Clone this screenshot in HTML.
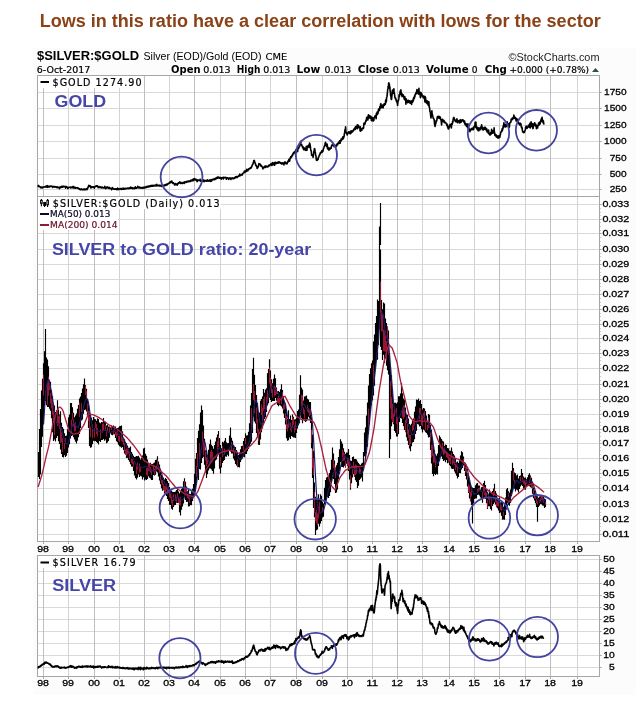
<!DOCTYPE html>
<html><head><meta charset="utf-8"><title>$SILVER:$GOLD chart</title>
<style>
html,body{margin:0;padding:0;background:#fff;}
body{width:636px;height:702px;position:relative;overflow:hidden;}
svg{position:absolute;left:0;top:0;}
</style></head>
<body>
<svg width="636" height="702" viewBox="0 0 636 702">
<rect x="33" y="48" width="603" height="647" fill="#fcfcfc"/>
<rect x="37" y="75" width="562" height="121" fill="#fff"/>
<rect x="37" y="196" width="562" height="345" fill="#fff"/>
<rect x="37" y="555" width="562" height="121" fill="#fff"/>
<path d="M37 92.5H599M37 108.5H599M37 125.5H599M37 141.5H599M37 158.5H599M37 174.5H599M37 189.5H599M37 204.5H599M37 219.5H599M37 233.5H599M37 249.5H599M37 264.5H599M37 279.5H599M37 294.5H599M37 309.5H599M37 324.5H599M37 338.5H599M37 353.5H599M37 368.5H599M37 384.5H599M37 399.5H599M37 414.5H599M37 429.5H599M37 443.5H599M37 458.5H599M37 473.5H599M37 488.5H599M37 504.5H599M37 519.5H599M37 534.5H599M37 559.5H599M37 571.5H599M37 583.5H599M37 595.5H599M37 607.5H599M37 619.5H599M37 631.5H599M37 643.5H599M37 655.5H599M37 667.5H599" stroke="#d9d9d9" stroke-width="1" fill="none"/>
<path d="M43.5 75V196M94.5 75V196M144.5 75V196M194.5 75V196M245.5 75V196M296.5 75V196M347.5 75V196M397.5 75V196M449.5 75V196M499.5 75V196M550.5 75V196M43.5 196V541M94.5 196V541M144.5 196V541M194.5 196V541M245.5 196V541M296.5 196V541M347.5 196V541M397.5 196V541M449.5 196V541M499.5 196V541M550.5 196V541M43.5 555V676M94.5 555V676M144.5 555V676M194.5 555V676M245.5 555V676M296.5 555V676M347.5 555V676M397.5 555V676M449.5 555V676M499.5 555V676M550.5 555V676" stroke="#bfbfbf" stroke-width="1" fill="none"/>
<path d="M68.5 75V196M119.5 75V196M169.5 75V196M220.5 75V196M270.5 75V196M322.5 75V196M372.5 75V196M422.5 75V196M474.5 75V196M525.5 75V196M577.5 75V196M68.5 196V541M119.5 196V541M169.5 196V541M220.5 196V541M270.5 196V541M322.5 196V541M372.5 196V541M422.5 196V541M474.5 196V541M525.5 196V541M577.5 196V541M68.5 555V676M119.5 555V676M169.5 555V676M220.5 555V676M270.5 555V676M322.5 555V676M372.5 555V676M422.5 555V676M474.5 555V676M525.5 555V676M577.5 555V676" stroke="#d3d3d3" stroke-width="1" fill="none"/>
<path d="M599 92.5H601.6M599 108.5H601.6M599 125.5H601.6M599 141.5H601.6M599 158.5H601.6M599 174.5H601.6M599 189.5H601.6M599 204.5H601.6M599 219.5H601.6M599 233.5H601.6M599 249.5H601.6M599 264.5H601.6M599 279.5H601.6M599 294.5H601.6M599 309.5H601.6M599 324.5H601.6M599 338.5H601.6M599 353.5H601.6M599 368.5H601.6M599 384.5H601.6M599 399.5H601.6M599 414.5H601.6M599 429.5H601.6M599 443.5H601.6M599 458.5H601.6M599 473.5H601.6M599 488.5H601.6M599 504.5H601.6M599 519.5H601.6M599 534.5H601.6M599 559.5H601.6M599 571.5H601.6M599 583.5H601.6M599 595.5H601.6M599 607.5H601.6M599 619.5H601.6M599 631.5H601.6M599 643.5H601.6M599 655.5H601.6M599 667.5H601.6M43.5 541V544M68.5 541V544M94.5 541V544M119.5 541V544M144.5 541V544M169.5 541V544M194.5 541V544M220.5 541V544M245.5 541V544M270.5 541V544M296.5 541V544M322.5 541V544M347.5 541V544M372.5 541V544M397.5 541V544M422.5 541V544M449.5 541V544M474.5 541V544M499.5 541V544M525.5 541V544M550.5 541V544M577.5 541V544M43.5 676V679M68.5 676V679M94.5 676V679M119.5 676V679M144.5 676V679M169.5 676V679M194.5 676V679M220.5 676V679M245.5 676V679M270.5 676V679M296.5 676V679M322.5 676V679M347.5 676V679M372.5 676V679M397.5 676V679M422.5 676V679M449.5 676V679M474.5 676V679M499.5 676V679M525.5 676V679M550.5 676V679M577.5 676V679M599 208.5H600.6M599 212.5H600.6M599 215.5H600.6M599 222.5H600.6M599 226.5H600.6M599 230.5H600.6M599 237.5H600.6M599 241.5H600.6M599 245.5H600.6M599 253.5H600.6M599 256.5H600.6M599 260.5H600.6M599 268.5H600.6M599 272.5H600.6M599 275.5H600.6M599 283.5H600.6M599 286.5H600.6M599 290.5H600.6M599 298.5H600.6M599 302.5H600.6M599 305.5H600.6M599 313.5H600.6M599 316.5H600.6M599 320.5H600.6M599 328.5H600.6M599 331.5H600.6M599 334.5H600.6M599 342.5H600.6M599 346.5H600.6M599 349.5H600.6M599 357.5H600.6M599 360.5H600.6M599 364.5H600.6M599 372.5H600.6M599 376.5H600.6M599 380.5H600.6M599 388.5H600.6M599 392.5H600.6M599 395.5H600.6M599 403.5H600.6M599 406.5H600.6M599 410.5H600.6M599 418.5H600.6M599 422.5H600.6M599 425.5H600.6M599 432.5H600.6M599 436.5H600.6M599 440.5H600.6M599 447.5H600.6M599 450.5H600.6M599 454.5H600.6M599 462.5H600.6M599 466.5H600.6M599 469.5H600.6M599 477.5H600.6M599 480.5H600.6M599 484.5H600.6M599 492.5H600.6M599 496.5H600.6M599 500.5H600.6M599 508.5H600.6M599 512.5H600.6M599 515.5H600.6M599 523.5H600.6M599 526.5H600.6M599 530.5H600.6" stroke="#a6a6a6" stroke-width="1" fill="none"/>
<rect x="37.5" y="75.5" width="562" height="121" fill="none" stroke="#a6a6a6" stroke-width="1"/>
<rect x="37.5" y="196.5" width="562" height="345" fill="none" stroke="#a6a6a6" stroke-width="1"/>
<rect x="37.5" y="555.5" width="562" height="121" fill="none" stroke="#a6a6a6" stroke-width="1"/>
<rect x="38" y="76" width="104" height="12" fill="#fff"/>
<rect x="38" y="197" width="183" height="12" fill="#fff"/>
<rect x="38" y="209" width="80" height="21" fill="#fff"/>
<rect x="38" y="556" width="99" height="12" fill="#fff"/>
<path d="M38.5 451.9V477M39.5 429V479M40.5 408.9V474.5M41.5 390.4V447.1M42.5 378.7V436.8M43.5 363.3V424.6M44.5 351.2V406.1M45.5 335.9V401M46.5 357.5V405.2M47.5 359.5V407M48.5 366.2V406.9M49.5 379.7V408.8M50.5 381.8V410.8M51.5 390.2V418.3M52.5 396V432.3M53.5 403.5V441.1M54.5 405.5V439.5M55.5 411.9V441.4M56.5 410.2V437.9M57.5 400.3V436M58.5 409.6V441.3M59.5 414.6V444.1M60.5 411.2V449.6M61.5 422.7V454M62.5 426.9V457M63.5 428.8V457.6M64.5 433.2V455.2M65.5 436V456.9M66.5 435.4V455.7M67.5 429.3V453M68.5 417.2V447.4M69.5 414.6V444.2M70.5 403V438.5M71.5 402.9V436.1M72.5 407.2V435.3M73.5 412.7V437.3M74.5 417.2V439.4M75.5 415.6V441.7M76.5 413.4V443.6M77.5 408.7V440.7M78.5 405V437.2M79.5 398.6V434.1M80.5 396.4V428.1M81.5 393V420.5M82.5 388.5V419.4M83.5 384.3V413.7M84.5 378.5V410.1M85.5 384.9V409.5M86.5 388.8V411.4M87.5 399V415.9M88.5 404.9V427.9M89.5 412.5V446.1M90.5 414.2V447.8M91.5 417.4V447.3M92.5 420.3V444.3M93.5 417V440.7M94.5 418.8V441.3M95.5 419.2V441.1M96.5 420.7V441.9M97.5 418.3V443M98.5 419V444.4M99.5 422.5V440.9M100.5 423.2V441.9M101.5 421.9V439.9M102.5 422.3V439.9M103.5 418.1V439.1M104.5 421.4V440.7M105.5 421.8V439.5M106.5 425.4V443.3M107.5 424.7V442.4M108.5 426.6V440.9M109.5 426.5V437.8M110.5 427.6V433M111.5 425.6V434.7M112.5 426V435.2M113.5 425.6V434.3M114.5 426.6V434.2M115.5 426.4V438M116.5 428.8V441.2M117.5 428.1V442.3M118.5 427.6V444.7M119.5 426.2V446.3M120.5 426V446.8M121.5 425.6V447.7M122.5 431.3V447.1M123.5 437.8V450.1M124.5 439.3V453.5M125.5 441.9V454.6M126.5 443.2V458.1M127.5 445.4V457.7M128.5 447.8V459.9M129.5 447.7V461.7M130.5 446.6V464.2M131.5 452.1V466.6M132.5 453.7V466.7M133.5 455.7V471.1M134.5 457.1V475.6M135.5 456.7V478M136.5 455.9V479.4M137.5 456.3V477.7M138.5 455.7V474.4M139.5 457.5V477M140.5 459.6V475.7M141.5 457.9V476.5M142.5 455.6V479.4M143.5 448.5V477.2M144.5 447.7V480.5M145.5 453.7V479.6M146.5 455.7V480.1M147.5 459.5V478.9M148.5 462.7V476.2M149.5 464.5V477.7M150.5 462.8V478.4M151.5 464.1V480.1M152.5 463.9V479.9M153.5 463.2V475.1M154.5 462.6V475.6M155.5 460V474.7M156.5 459.5V471.4M157.5 456.2V472.5M158.5 461.6V476.5M159.5 464.5V480.4M160.5 471.4V484.3M161.5 474.8V488.3M162.5 476.3V490.7M163.5 477.7V489.9M164.5 479.6V493.4M165.5 478V493.5M166.5 479V496.1M167.5 481V498.9M168.5 483V501.1M169.5 486.9V504.8M170.5 489.5V504.9M171.5 490.6V508.7M172.5 491.8V509.7M173.5 492.1V506.9M174.5 492.1V505.2M175.5 491.4V505M176.5 490V502.9M177.5 488.2V502.9M178.5 491.5V502.3M179.5 493.5V512.3M180.5 491.8V515.5M181.5 489V509.8M182.5 487.3V506.4M183.5 481.2V503.4M184.5 478.3V496.5M185.5 481.8V500M186.5 486.6V502.1M187.5 491.2V501.8M188.5 489.7V506.4M189.5 493.8V506.2M190.5 494V505.1M191.5 491.3V505.3M192.5 488.8V500.9M193.5 484.1V497M194.5 473.8V494.8M195.5 458.7V491.4M196.5 452.9V483.8M197.5 438V477.5M198.5 430.7V480M199.5 424.3V469M200.5 412.4V469.5M201.5 405.5V462.9M202.5 410.1V458.1M203.5 425.6V456.8M204.5 438.8V464.8M205.5 450.2V472.6M206.5 451V477.9M207.5 455V474.2M208.5 449.8V470.4M209.5 444.3V468.5M210.5 439.5V468.5M211.5 444.7V469.4M212.5 446.2V471.1M213.5 448.7V473.7M214.5 444.9V468.4M215.5 441.4V460.6M216.5 437.5V459.5M217.5 434.4V456.4M218.5 431V454M219.5 438.1V468.8M220.5 445V473.5M221.5 448.2V467.6M222.5 441.7V463.1M223.5 442.4V461M224.5 440.7V460M225.5 438.1V456.5M226.5 442.2V456.7M227.5 443.2V454.7M228.5 442.9V456.3M229.5 435.6V450.4M230.5 427.4V451.4M231.5 437.7V453.5M232.5 440.8V453.6M233.5 445.1V458.4M234.5 447.8V460.5M235.5 447.1V464.1M236.5 450V465.6M237.5 451.7V466.5M238.5 455V467.1M239.5 452.6V467.5M240.5 449.3V461.9M241.5 446.1V459.7M242.5 445.8V458.5M243.5 441.1V456.8M244.5 438V457.2M245.5 433.3V454.1M246.5 435.4V454M247.5 435.2V451.2M248.5 431.7V449.1M249.5 423.3V447.1M250.5 405.6V443.7M251.5 393V441.7M252.5 369.1V433M253.5 357.7V416.4M254.5 374.8V421.4M255.5 384.9V423.5M256.5 395V432.9M257.5 403V437.7M258.5 412.6V444.7M259.5 412.4V444.9M260.5 400.7V439.6M261.5 399V432.2M262.5 396.5V428.4M263.5 389.1V425.1M264.5 392.8V419.1M265.5 389.6V417.2M266.5 388.2V412.1M267.5 373.3V405.4M268.5 369.1V403.3M269.5 359.3V397.7M270.5 370.4V400.1M271.5 379.3V402.1M272.5 383.2V401.1M273.5 378.8V400.9M274.5 374.4V401.1M275.5 378.2V397.9M276.5 387.6V400.8M277.5 393.4V405M278.5 390.9V406.2M279.5 392.1V405M280.5 389.2V405.6M281.5 384.2V406.6M282.5 390.1V408.5M283.5 395.9V413.5M284.5 400.8V417.9M285.5 403.6V424.4M286.5 411.1V438.2M287.5 418.9V440.7M288.5 410.2V440.2M289.5 419.1V437.4M290.5 415.6V438.9M291.5 420V435.9M292.5 414.4V436.7M293.5 416.8V437.5M294.5 419.4V437.6M295.5 419.2V438M296.5 417.5V433M297.5 411V428.4M298.5 409.4V424.1M299.5 394.7V423.3M300.5 375.3V413.2M301.5 387.5V418.3M302.5 389.4V423.2M303.5 400.6V419.6M304.5 396.6V420.8M305.5 396.3V422M306.5 395.6V421.2M307.5 398.7V419.2M308.5 399.6V416.8M309.5 402.1V418.4M310.5 402.1V423M311.5 417.2V448.2M312.5 434.5V478M313.5 450.9V508.1M314.5 482.4V517.2M315.5 496.8V529.7M316.5 498.8V530.3M317.5 498.6V529.4M318.5 494.3V523.7M319.5 498.8V526.6M320.5 494.2V523.5M321.5 495.7V520.9M322.5 501.8V517.4M323.5 503.4V516.8M324.5 487.8V504.6M325.5 480V501.1M326.5 477.5V498.8M327.5 476.8V497.1M328.5 477.3V497.9M329.5 472.9V496M330.5 469.8V492.2M331.5 459.7V482.2M332.5 447.6V475.5M333.5 453.4V478.9M334.5 460.6V484M335.5 467.7V493.1M336.5 465.2V492.5M337.5 462.8V489.5M338.5 457.1V479.3M339.5 449.2V470.9M340.5 439.2V462.3M341.5 441.5V466.8M342.5 443.8V467M343.5 448.2V467.6M344.5 451.7V465.7M345.5 453.9V467.6M346.5 452.6V463.8M347.5 452.6V465.8M348.5 448.9V471M349.5 454.9V479.6M350.5 460.6V489.8M351.5 460.9V483.3M352.5 457V477.6M353.5 456.5V474.3M354.5 458.9V476.9M355.5 458.9V480.2M356.5 459.4V482.1M357.5 461.4V488.1M358.5 462.9V485.8M359.5 464.3V480.1M360.5 465.1V478.8M361.5 463.4V477.6M362.5 462.7V481.5M363.5 452V468.4M364.5 432.5V456.2M365.5 427.4V456.9M366.5 415.6V453.5M367.5 402.4V446.8M368.5 385.5V433.9M369.5 374.1V424.4M370.5 368.2V413.3M371.5 363.3V405.3M372.5 360.6V400.6M373.5 341.6V395.5M374.5 334.4V385.8M375.5 323.1V367M376.5 316V360.1M377.5 299.6V359.8M378.5 301.1V344.9M379.5 226.5V329.1M380.5 249.4V346.8M381.5 299.9V350M382.5 309.3V360.1M383.5 302.5V354.8M384.5 303.6V362.9M385.5 318.5V358.4M386.5 323.1V365.8M387.5 327.4V370.3M388.5 330.6V374.4M389.5 353V431.3M390.5 367.1V439.2M391.5 375.2V426.2M392.5 388.8V419.9M393.5 401.9V424.3M394.5 402.8V430.9M395.5 402.7V432.8M396.5 403.5V436.6M397.5 402.3V436.6M398.5 396.3V434.1M399.5 396.3V422.1M400.5 393.4V417.9M401.5 382.9V418.5M402.5 393.3V423.1M403.5 398.5V426.3M404.5 399.8V429.9M405.5 407.4V429.9M406.5 414.2V437.3M407.5 414.8V440.8M408.5 418.4V444.9M409.5 424.1V448.4M410.5 425.2V451.2M411.5 423.8V446.2M412.5 421.1V442.6M413.5 418.6V442.1M414.5 411.7V439.3M415.5 406.6V434.1M416.5 399.4V430.7M417.5 400V424.1M418.5 398.4V424.4M419.5 401V426.4M420.5 399.9V426M421.5 403.9V429.3M422.5 409.5V432.6M423.5 408.1V429.5M424.5 408.6V430.4M425.5 411.1V432.2M426.5 415.5V433M427.5 420.7V434.8M428.5 413.9V437.5M429.5 414.8V436.9M430.5 425V450.1M431.5 429.7V463.4M432.5 439.9V474M433.5 446.8V476.3M434.5 450.1V474M435.5 454.2V474.9M436.5 455.7V473.8M437.5 453.4V474.5M438.5 444.9V466M439.5 435.4V461M440.5 437.2V456M441.5 438.9V456.4M442.5 440.7V459M443.5 441.5V460.9M444.5 445.8V460.2M445.5 444.4V462.2M446.5 445.1V459.9M447.5 447.9V463.3M448.5 448.3V462.4M449.5 450.8V465.1M450.5 450.8V466.3M451.5 447.6V468.6M452.5 451.4V469M453.5 453.9V468.7M454.5 455.6V471.6M455.5 458.1V473.4M456.5 462.4V475.7M457.5 461.6V478.6M458.5 462.9V476.9M459.5 460.2V472.9M460.5 455.6V473.2M461.5 451.3V469.5M462.5 452.3V467.9M463.5 456.4V465.5M464.5 461.9V471M465.5 465V476M466.5 468.5V479.5M467.5 473.6V486.4M468.5 476.3V492.9M469.5 480.6V498.4M470.5 484V501.2M471.5 486.4V505M472.5 487.4V505M473.5 488V503.6M474.5 487.9V499M475.5 485.3V498.4M476.5 483.6V498.4M477.5 483.1V494.9M478.5 485.5V494.4M479.5 485.6V495.4M480.5 489.4V497.6M481.5 487.2V499.4M482.5 486.9V502.8M483.5 483.1V499.1M484.5 480.7V497.2M485.5 485V499.1M486.5 489.8V503.3M487.5 491.7V508.9M488.5 493.8V506.3M489.5 489.6V506.2M490.5 493V509M491.5 492.6V510.6M492.5 490.9V506.1M493.5 488.5V504M494.5 483.7V502.5M495.5 491.1V504.6M496.5 493.6V506.9M497.5 498.3V508.2M498.5 498.6V510.6M499.5 497.4V512.9M500.5 502.5V512.6M501.5 501.6V515.7M502.5 502.1V519.8M503.5 506.7V519.6M504.5 503.6V519.7M505.5 497.5V514.9M506.5 489.2V507.1M507.5 488V502.7M508.5 491.2V504.9M509.5 492.7V505.7M510.5 489.5V503M511.5 470.7V495.9M512.5 462.8V491.4M513.5 467.9V488M514.5 472.5V488.7M515.5 473.2V491.5M516.5 475.6V489.4M517.5 474.4V490.3M518.5 478.6V492.5M519.5 475.9V489.1M520.5 475.6V486.4M521.5 468.9V484.7M522.5 472.9V485.9M523.5 476.4V488.8M524.5 477.7V489.4M525.5 477.6V489.8M526.5 479.2V486.2M527.5 477.2V485.1M528.5 474.8V485.5M529.5 473.2V486.3M530.5 475.5V487.2M531.5 477.7V487.8M532.5 483.5V493.8M533.5 487.4V498.3M534.5 490.3V500.4M535.5 493.6V503.2M536.5 494.6V507.1M537.5 496.5V508.9M538.5 497.8V507M539.5 496.6V505.5M540.5 496.3V504M541.5 495.4V504.3M542.5 494.9V505.5M543.5 495.7V505.8M544.5 498.5V508.1M545.5 499.3V507M45.5 329V340M472.5 500V523.4M537.5 505V521.7M389.5 420V458M315.5 525V535M380.5 203V245M379.5 240V300" stroke="#000" stroke-width="1.15" fill="none"/>
<path d="M43.5 374.9V395.5M47.5 381V404.7M48.5 376.7V395.9M49.5 379.7V390.2M50.5 393.1V403.5M51.5 398.6V408.5M52.5 400.3V414.8M53.5 411V423M54.5 418.4V435.1M57.5 410.2V426M58.5 416.1V425.4M59.5 415.2V428.6M60.5 428V443M61.5 432.4V442.3M62.5 438.2V452M64.5 443.1V449.5M65.5 438V443.6M71.5 419.4V433.3M72.5 413.1V420.2M73.5 419.1V426.6M74.5 422.9V431.6M75.5 422.4V431M79.5 402.5V417M81.5 403.1V411.8M85.5 385.4V395.1M86.5 391.3V398.9M87.5 403.3V413.3M88.5 410.9V421M89.5 416.4V429.6M90.5 426.7V437.1M92.5 424.8V438.4M94.5 428.1V437.7M95.5 421.9V427.8M96.5 423.9V434M97.5 428.2V436.3M100.5 429.4V438.5M102.5 423.8V432.8M103.5 423.3V430.2M105.5 425.2V430.6M106.5 431.3V436.4M107.5 426.8V431.5M109.5 427.6V432.1M111.5 426.9V430M113.5 429.8V434.3M114.5 427.3V431.5M115.5 431.3V435.2M116.5 431.8V437.4M117.5 430.2V435.6M118.5 435.8V441M119.5 436V442.1M121.5 431.4V441M122.5 436.9V442.1M123.5 438.8V444.9M124.5 443.2V450.8M125.5 449.3V454.6M126.5 448.5V455.8M127.5 448.6V454.3M128.5 448.6V453.6M129.5 452.4V459.3M131.5 458.8V462.7M132.5 459V464.1M133.5 461.8V466.6M136.5 465.9V474.2M137.5 462.4V469.7M139.5 463.6V472.7M140.5 466.6V471.9M146.5 467.8V475.1M147.5 467.6V475.9M148.5 463.8V471.1M149.5 464.5V471.4M150.5 467.1V472.5M151.5 469.3V475.1M153.5 464.7V471.4M154.5 468.8V474.5M155.5 466.9V471.8M156.5 465.3V470.5M157.5 459.6V465.7M158.5 465.4V470M159.5 469.2V473.2M160.5 475.2V479.9M161.5 479.8V483.6M162.5 480.2V485M163.5 483.8V490.2M164.5 486.1V491.8M165.5 485.9V493.2M166.5 483.8V489.9M167.5 487.5V494.5M168.5 486.5V493.2M169.5 490.7V497.6M170.5 490.2V498.4M171.5 496.4V503.4M172.5 500.1V506.4M173.5 494.1V501M175.5 494.4V500.7M176.5 496.8V503M177.5 493.2V497.4M178.5 496.8V503M179.5 498.8V505M180.5 496.8V505.7M184.5 481.5V492.5M185.5 487.5V492.7M186.5 488.4V494.4M187.5 493.6V498M188.5 494.6V499.1M189.5 496.4V503.1M196.5 466V476.5M197.5 453.4V466.8M199.5 443.1V459.4M202.5 431.5V444.2M203.5 439.8V455.3M204.5 443.4V450.8M205.5 451.5V460.5M206.5 457V466.4M207.5 457.6V464M210.5 451.6V462M211.5 449.5V460.9M212.5 451.7V461.6M217.5 441.2V449.6M218.5 436.1V447M220.5 457.1V466.1M222.5 446.2V457.4M224.5 448.5V454.3M231.5 442.1V449.6M233.5 448V451.8M234.5 451V456M237.5 459.5V467.4M243.5 444.6V450.4M245.5 437.9V444.3M251.5 408.1V430M253.5 383.8V399.9M254.5 391V413.3M256.5 407.5V423M257.5 419.1V432.7M258.5 428.8V440.8M261.5 404.6V415M262.5 407.6V424.5M263.5 398.7V410.9M264.5 396.6V409.1M266.5 397V409.9M267.5 390.2V401.3M269.5 367.3V383.3M270.5 377.6V386.9M271.5 382.6V393.1M272.5 389.1V397.7M274.5 385.8V396.4M275.5 387.2V395.4M276.5 388.7V393.9M277.5 398.1V401.8M278.5 395.9V403.3M279.5 398.1V404.5M281.5 396.7V404.1M282.5 392.2V397.2M283.5 404.4V410.2M284.5 402.2V409.4M285.5 413.5V420.6M286.5 416V429M287.5 424.2V431.4M288.5 421V428.1M290.5 422.8V430.2M291.5 426.4V432.4M292.5 417V427.4M293.5 418V424.8M294.5 425.5V432.6M295.5 421.2V430.1M301.5 394.7V406.2M302.5 395.4V407.6M303.5 407.4V413.9M304.5 409.7V418.7M307.5 405V411.5M308.5 408.2V412.9M309.5 409.9V415.9M310.5 409.4V415M311.5 429.6V442.8M312.5 448.8V468.4M313.5 458.3V475.1M314.5 492.1V512.7M315.5 512.2V521.3M316.5 509.5V523.4M317.5 513.4V525.5M318.5 506.7V518.3M319.5 501.8V513.4M322.5 507.1V512.1M333.5 459.7V468.1M334.5 464.5V471.4M335.5 467.5V477.8M342.5 449.6V461.1M343.5 452.2V460.8M344.5 453.6V460.5M345.5 460.9V467.4M347.5 457.7V464.8M348.5 458V465.9M349.5 460.6V470.2M350.5 475.4V488M352.5 466.8V474.7M353.5 461.7V468M354.5 467.2V477M355.5 464.6V475M356.5 465V473.5M359.5 468.2V474M360.5 469.1V472.6M368.5 408.7V427.4M373.5 364.7V388M380.5 281.4V317.3M381.5 310.4V331.4M382.5 314.3V331.6M383.5 329.7V351.2M384.5 330.5V351.4M385.5 330.4V351.9M386.5 341V360.5M387.5 326.2V342.5M388.5 338.5V354.6M390.5 381V408.7M391.5 396.9V419.5M392.5 403.7V422.3M393.5 413.8V423.1M394.5 407.1V416.6M396.5 408.1V424.2M397.5 417.5V433.5M402.5 407.6V417.3M403.5 405.4V419M404.5 405.7V417.4M405.5 419.5V432.3M406.5 416.3V423.3M407.5 423.8V434.6M408.5 429.5V437.9M409.5 434.9V445.9M410.5 435V444.2M412.5 424.7V431.3M413.5 419.5V430.1M414.5 417.8V425.7M419.5 407.8V419.3M420.5 407.9V414.9M421.5 414.8V425.1M422.5 415.6V426.4M423.5 412.8V418.7M424.5 411.1V420.9M425.5 421V430.2M427.5 425V430.4M428.5 417.6V428M430.5 432.3V441.9M431.5 444.6V457.6M432.5 444.7V456.1M433.5 453.6V462.9M434.5 453.2V462.4M435.5 458.7V467.3M442.5 442.7V451.9M443.5 450V455.2M444.5 447.5V454.2M446.5 452.8V457.3M447.5 452V458.2M448.5 455.4V461.6M449.5 457.2V461.7M450.5 456.1V464.2M451.5 452.7V458M452.5 456.4V465.2M453.5 456.7V463.4M454.5 458.7V465.2M455.5 464V470.2M456.5 463.3V467.6M457.5 465.1V472.6M463.5 458.7V462.4M464.5 464.3V468.2M465.5 466.8V472.5M466.5 469.5V472.6M467.5 473.3V479.9M468.5 484.2V491.8M469.5 485.7V493M470.5 492.3V501.5M471.5 488.1V496.6M477.5 489.2V493M478.5 488.2V491M479.5 487.6V490.2M482.5 491.8V499.4M483.5 486.9V492.1M484.5 488.3V495M485.5 491.8V497.7M486.5 492.9V496.9M487.5 500.1V508.2M488.5 494.1V499.8M489.5 497.4V503.7M491.5 498.6V506.4M493.5 491.8V496.2M494.5 488.8V494.8M495.5 497V502.3M496.5 500.4V507.3M497.5 501.1V505.9M498.5 501.1V506.5M500.5 504.5V510.1M501.5 504.9V511M503.5 511.7V515.9M508.5 493.2V496.8M513.5 470.7V480.6M514.5 480.1V484.7M520.5 476.9V481.1M522.5 477.4V481.9M523.5 480.3V483.6M524.5 479.8V484.9M525.5 481.8V487.1M526.5 480V483.8M529.5 479.6V483.1M530.5 476.3V479.7M531.5 482.5V487M532.5 485.3V489.1M533.5 489.4V493.8M534.5 493.8V498.4M535.5 496.5V499M536.5 498.9V503.1M537.5 500.9V504.3M539.5 499.9V502.9M540.5 498.3V501.8M541.5 495.7V499.6M542.5 495.9V499.6M543.5 498.5V502.8M545.5 502V504.6" stroke="#9a1434" stroke-width="1" fill="none"/>
<path d="M43.5 423.9 44.5 409.7 45.5 395.1 46.5 386 47.5 381.3 48.5 380 49.5 381.9 50.5 387.3 51.5 392.4 52.5 398.5 53.5 405.4 54.5 412.4 55.5 418.8 56.5 422.9 57.5 423.7 58.5 423.9 59.5 424.4 60.5 425.6 61.5 428.6 62.5 433.4 63.5 437.4 64.5 440.6 65.5 443 66.5 444.1 67.5 444 68.5 442.2 69.5 438.5 70.5 433.3 71.5 428.4 72.5 424.4 73.5 422.7 74.5 423.2 75.5 425.1 76.5 426.9 77.5 427.6 78.5 426.8 79.5 424.1 80.5 420.4 81.5 416.3 82.5 412.2 83.5 407.6 84.5 403.2 85.5 400.2 86.5 398.6 87.5 399.1 88.5 402.8 89.5 409.7 90.5 416.7 91.5 423.2 92.5 428.4 93.5 430.8 94.5 431.2 95.5 431 96.5 430.8 97.5 430.6 98.5 431.1 99.5 431.5 100.5 432 101.5 431.9 102.5 431.7 103.5 430.9 104.5 430.3 105.5 430.1 106.5 430.8 107.5 431.6 108.5 432.6 109.5 433.1 110.5 432.7 111.5 431.9 112.5 431.3 113.5 430.7 114.5 430.3 115.5 430.7 116.5 431.7 117.5 432.7 118.5 433.8 119.5 435.1 120.5 435.8 121.5 436.2 122.5 437.1 123.5 438.6 124.5 440.5 125.5 443.2 126.5 445.9 127.5 448.3 128.5 450.3 129.5 452.2 130.5 453.5 131.5 455.3 132.5 457 133.5 459.1 134.5 461.3 135.5 463.6 136.5 465.2 137.5 466.3 138.5 466.8 139.5 467.1 140.5 467.1 141.5 467.2 142.5 467.5 143.5 467.5 144.5 467 145.5 466.5 146.5 466.4 147.5 467.1 148.5 467.7 149.5 468.7 150.5 469.7 151.5 470.6 152.5 470.9 153.5 470.8 154.5 470.6 155.5 470 156.5 468.8 157.5 467.2 158.5 467 159.5 467.7 160.5 469.7 161.5 472.8 162.5 476.8 163.5 480 164.5 482.8 165.5 484.8 166.5 486.1 167.5 487.3 168.5 488.8 169.5 490.6 170.5 492.4 171.5 494.8 172.5 496.9 173.5 498.3 174.5 499 175.5 499.3 176.5 498.8 177.5 497.9 178.5 497.3 179.5 498.1 180.5 499.2 181.5 499.9 182.5 500.2 183.5 499.3 184.5 496.5 185.5 493.9 186.5 492.6 187.5 492.6 188.5 493.6 189.5 496 190.5 497.8 191.5 498.7 192.5 498.6 193.5 497.1 194.5 494 195.5 489.6 196.5 483.3 197.5 476 198.5 469 199.5 461.5 200.5 454.3 201.5 447.7 202.5 442.9 203.5 440.1 204.5 440.8 205.5 444.9 206.5 451.1 207.5 457.1 208.5 461 209.5 462.3 210.5 460.9 211.5 459.2 212.5 458 213.5 458 214.5 457.7 215.5 457.2 216.5 455.5 217.5 452.8 218.5 448.6 219.5 448 220.5 449.5 221.5 451.1 222.5 452.9 223.5 455.1 224.5 454.3 225.5 452.1 226.5 450.6 227.5 449.8 228.5 449.3 229.5 448.1 230.5 446.3 231.5 445.3 232.5 445 233.5 445.3 234.5 447.4 235.5 450.6 236.5 453.3 237.5 455.6 238.5 457.8 239.5 459 240.5 459.1 241.5 458.4 242.5 456.9 243.5 454.6 244.5 452.1 245.5 449.7 246.5 447.5 247.5 445.4 248.5 443.3 249.5 440.7 250.5 437.3 251.5 431.3 252.5 423.1 253.5 412.3 254.5 404.6 255.5 400.5 256.5 400.8 257.5 405 258.5 413.7 259.5 420.4 260.5 423.7 261.5 424.4 262.5 422.1 263.5 417.5 264.5 412.8 265.5 408.8 266.5 404.9 267.5 401.2 268.5 397.2 269.5 391.6 270.5 388.1 271.5 386.5 272.5 386.5 273.5 387.4 274.5 389.3 275.5 390.1 276.5 390.9 277.5 392.2 278.5 393.8 279.5 396 280.5 397.5 281.5 398 282.5 398.2 283.5 399.5 284.5 401.6 285.5 404.9 286.5 410.3 287.5 416.3 288.5 420.9 289.5 424.6 290.5 427.7 291.5 428.4 292.5 427.6 293.5 427.3 294.5 427.5 295.5 427.4 296.5 427 297.5 426.2 298.5 424.3 299.5 420 300.5 413.5 301.5 408.7 302.5 405.7 303.5 404.1 304.5 404.6 305.5 407.1 306.5 408.4 307.5 408.9 308.5 408.8 309.5 409 310.5 409.8 311.5 414.4 312.5 424 313.5 438.5 314.5 456.5 315.5 476.4 316.5 493 317.5 504.7 318.5 511.2 319.5 513.5 320.5 513 321.5 512.1 322.5 511.3 323.5 510.6 324.5 507.2 325.5 503.4 326.5 498.8 327.5 494.3 328.5 489.7 329.5 487.4 330.5 485.2 331.5 482.2 332.5 477.4 333.5 473.2 334.5 471.1 335.5 470.9 336.5 472.2 337.5 474.8 338.5 475.4 339.5 473 340.5 467.5 341.5 462.6 342.5 458.5 343.5 456.2 344.5 455.6 345.5 457.6 346.5 458.5 347.5 458.9 348.5 459.3 349.5 461.1 350.5 464.1 351.5 466.7 352.5 468.8 353.5 470 354.5 470 355.5 468.8 356.5 468.8 357.5 470.4 358.5 472.1 359.5 472.9 360.5 473.4 361.5 473.1 362.5 472.4 363.5 469.5 364.5 464.6 365.5 458.3 366.5 450.9 367.5 441.1 368.5 431.1 369.5 421.6 370.5 411.8 371.5 402.1 372.5 392.8 373.5 384.9 374.5 377.2 375.5 368.6 376.5 358.6 377.5 349.1 378.5 339.6 379.5 324.8 380.5 314 381.5 312.6 382.5 313 383.5 315.6 384.5 325.6 385.5 334.4 386.5 336.9 387.5 339.7 388.5 342.8 389.5 354.2 390.5 366.9 391.5 378.8 392.5 390.9 393.5 403.4 394.5 407.9 395.5 411.3 396.5 415.2 397.5 417.8 398.5 418.5 399.5 417.4 400.5 414.6 401.5 411.2 402.5 409 403.5 408 404.5 409 405.5 411.9 406.5 416.1 407.5 420 408.5 423.8 409.5 427.7 410.5 431.4 411.5 434 412.5 435 413.5 434.5 414.5 432.2 415.5 428.2 416.5 424 417.5 419.9 418.5 416.6 419.5 414.6 420.5 413.6 421.5 413.8 422.5 415.1 423.5 416.6 424.5 417.7 425.5 419.3 426.5 420.9 427.5 422.5 428.5 423.7 429.5 425.3 430.5 428.5 431.5 433 432.5 438.9 433.5 445.9 434.5 452.8 435.5 458.3 436.5 462.2 437.5 463.3 438.5 462.7 439.5 459.9 440.5 456.1 441.5 452.3 442.5 449.6 443.5 448.4 444.5 449.2 445.5 450.6 446.5 451.9 447.5 453.2 448.5 454.1 449.5 455.2 450.5 456.4 451.5 457.6 452.5 458.5 453.5 459.6 454.5 460.7 455.5 462.1 456.5 463.9 457.5 465.9 458.5 467.8 459.5 468.4 460.5 468.1 461.5 466.8 462.5 464.8 463.5 462.8 464.5 462.7 465.5 463.8 466.5 466.2 467.5 470 468.5 475 469.5 479.6 470.5 484.1 471.5 488.2 472.5 491.5 473.5 493.5 474.5 494.3 475.5 494.2 476.5 493.5 477.5 492.4 478.5 491.3 479.5 490.7 480.5 490.9 481.5 491.3 482.5 492 483.5 492 484.5 491.7 485.5 491.5 486.5 492.2 487.5 493.5 488.5 495.6 489.5 497.5 490.5 499.3 491.5 500.4 492.5 500.2 493.5 499.3 494.5 498.5 495.5 497.9 496.5 497.7 497.5 498.5 498.5 500.1 499.5 502.4 500.5 504.3 501.5 505.9 502.5 507.5 503.5 509.2 504.5 510.6 505.5 510.5 506.5 508.4 507.5 505.5 508.5 502.4 509.5 499.7 510.5 497.4 511.5 494.7 512.5 491.3 513.5 487.5 514.5 483.8 515.5 481.4 516.5 480.7 517.5 481.1 518.5 482.3 519.5 482.8 520.5 482.2 521.5 481.1 522.5 480.5 523.5 480.1 524.5 480.1 525.5 480.7 526.5 482.1 527.5 482.7 528.5 482.1 529.5 481.5 530.5 480.9 531.5 481.1 532.5 482.4 533.5 485 534.5 488.1 535.5 491.7 536.5 495.2 537.5 498.1 538.5 500 539.5 501.3 540.5 501.7 541.5 501.3 542.5 500.8 543.5 500.6 544.5 500.9 545.5 501.4" stroke="#1c1c66" stroke-width="1.2" fill="none"/>
<path d="M38.1 487 39.1 483.8 40.1 480.7 41.1 477.4 42.1 474.1 43.1 469.8 44.1 465.6 45.1 461.1 46.1 456.6 47.1 452.7 48.1 448.8 49.1 444.4 50.1 438.9 51.1 433.4 52.1 428 53.1 422.5 54.1 419.5 55.1 416.5 56.1 413.6 57.1 410.6 58.1 408.6 59.1 407.1 60.1 407.1 61.1 408.1 62.1 409.1 63.1 411 64.1 414.4 65.1 417.7 66.1 421.1 67.1 424.4 68.1 427.7 69.1 431 70.1 431.7 71.1 432.5 72.1 433.2 73.1 434 74.1 434.1 75.1 433.9 76.1 433.7 77.1 433.5 78.1 433.3 79.1 432.6 80.1 430.9 81.1 429.3 82.1 427.7 83.1 426.1 84.1 424.4 85.1 421.9 86.1 419.4 87.1 417 88.1 414.5 89.1 414.1 90.1 414.3 91.1 414.5 92.1 414.7 93.1 414.9 94.1 415.2 95.1 415.7 96.1 416.2 97.1 416.7 98.1 417.2 99.1 417.7 100.1 418.3 101.1 419 102.1 419.8 103.1 420.5 104.1 421.3 105.1 422 106.1 422.7 107.1 423.5 108.1 424.2 109.1 424.9 110.1 425.4 111.1 425.9 112.1 426.4 113.1 426.9 114.1 427.4 115.1 428 116.1 428.5 117.1 429 118.1 429.9 119.1 430.7 120.1 431.6 121.1 432.5 122.1 433.3 123.1 434.2 124.1 435.1 125.1 435.9 126.1 436.8 127.1 437.7 128.1 438.9 129.1 440 130.1 441.2 131.1 442.4 132.1 443.5 133.1 444.7 134.1 445.9 135.1 447.3 136.1 448.7 137.1 450.1 138.1 451.5 139.1 452.9 140.1 454.4 141.1 455.9 142.1 457.4 143.1 458.9 144.1 460.4 145.1 461.1 146.1 461.7 147.1 462.3 148.1 463 149.1 463.6 150.1 464.2 151.1 464.9 152.1 465.3 153.1 465.8 154.1 466.2 155.1 466.6 156.1 467.1 157.1 468 158.1 468.8 159.1 469.7 160.1 470.6 161.1 471.4 162.1 472.3 163.1 473.2 164.1 474 165.1 474.9 166.1 475.8 167.1 477 168.1 478.2 169.1 479.5 170.1 480.7 171.1 481.9 172.1 483.1 173.1 484.3 174.1 485.5 175.1 486.7 176.1 487.8 177.1 488.5 178.1 489.3 179.1 490 180.1 490.7 181.1 491.4 182.1 492.1 183.1 492.8 184.1 493.5 185.1 494.2 186.1 494.8 187.1 495 188.1 495.3 189.1 495.5 190.1 495.8 191.1 496 192.1 496.3 193.1 496.5 194.1 496.3 195.1 495.1 196.1 493.8 197.1 492.6 198.1 490.9 199.1 488.2 200.1 485.5 201.1 482.9 202.1 480.2 203.1 477.4 204.1 474.7 205.1 471.9 206.1 469.5 207.1 468 208.1 466.4 209.1 464.8 210.1 463.4 211.1 462 212.1 460.6 213.1 459.2 214.1 457.9 215.1 457 216.1 456.1 217.1 455.2 218.1 454.2 219.1 453.5 220.1 453.1 221.1 452.7 222.1 452.3 223.1 451.9 224.1 451.5 225.1 451.3 226.1 451.1 227.1 450.9 228.1 450.6 229.1 450.4 230.1 450.2 231.1 450.4 232.1 450.7 233.1 451 234.1 451.3 235.1 451.5 236.1 452 237.1 452.5 238.1 453 239.1 453.5 240.1 453.4 241.1 453.1 242.1 452.8 243.1 452.4 244.1 451.5 245.1 450.5 246.1 449.6 247.1 448.7 248.1 447.8 249.1 446.8 250.1 445.9 251.1 444.9 252.1 443.9 253.1 442.9 254.1 441.7 255.1 440.6 256.1 439.3 257.1 437.4 258.1 435.6 259.1 433.7 260.1 431.8 261.1 429.5 262.1 427.3 263.1 425 264.1 422.8 265.1 420.5 266.1 418.3 267.1 416.1 268.1 414 269.1 411.8 270.1 409.7 271.1 407.5 272.1 405.7 273.1 405 274.1 404.3 275.1 403.7 276.1 403 277.1 402.3 278.1 401.6 279.1 400.8 280.1 399.9 281.1 399.1 282.1 398.2 283.1 397.3 284.1 396.5 285.1 396.2 286.1 398.2 287.1 400.2 288.1 402.2 289.1 404.2 290.1 406.1 291.1 407.8 292.1 409.5 293.1 411.2 294.1 412.8 295.1 414.5 296.1 415.9 297.1 416.6 298.1 417.2 299.1 417.9 300.1 418.6 301.1 419.2 302.1 419.7 303.1 419.7 304.1 419.7 305.1 419.7 306.1 419.7 307.1 419.7 308.1 419.7 309.1 419.7 310.1 419.9 311.1 420.4 312.1 421 313.1 421.6 314.1 422.8 315.1 425.2 316.1 427.8 317.1 430.2 318.1 433.3 319.1 437.5 320.1 441.8 321.1 446 322.1 450.7 323.1 455.3 324.1 460 325.1 464.6 326.1 469.3 327.1 472.6 328.1 475.7 329.1 478.7 330.1 481.7 331.1 484.8 332.1 486.7 333.1 487.8 334.1 489 335.1 489.8 336.1 487.3 337.1 484.8 338.1 482.3 339.1 479.8 340.1 477.3 341.1 475.9 342.1 474.6 343.1 473.3 344.1 471.9 345.1 470.6 346.1 469.8 347.1 469.3 348.1 468.8 349.1 468.3 350.1 467.8 351.1 467.3 352.1 466.8 353.1 466.7 354.1 466.7 355.1 466.7 356.1 466.7 357.1 466.7 358.1 466.7 359.1 466.7 360.1 466.6 361.1 466.4 362.1 466.3 363.1 466.2 364.1 466 365.1 464.1 366.1 461.4 367.1 458.7 368.1 456 369.1 453.3 370.1 449.3 371.1 444 372.1 438.7 373.1 433.3 374.1 428 375.1 420.6 376.1 413.2 377.1 405.8 378.1 398.4 379.1 391.1 380.1 385 381.1 379 382.1 372.9 383.1 366.8 384.1 361.5 385.1 357.7 386.1 353.9 387.1 350.2 388.1 346.4 389.1 345 390.1 346 391.1 346.9 392.1 347.9 393.1 350.5 394.1 353.5 395.1 356.6 396.1 359.6 397.1 362.6 398.1 368 399.1 373.4 400.1 378.8 401.1 383.6 402.1 387.5 403.1 391.4 404.1 395.3 405.1 399.3 406.1 403.4 407.1 407.4 408.1 411.5 409.1 415.5 410.1 417 411.1 418.3 412.1 419.5 413.1 420.8 414.1 422 415.1 421.8 416.1 421.6 417.1 421.4 418.1 421.1 419.1 420.9 420.1 420.7 421.1 420.8 422.1 421 423.1 421.1 424.1 421.2 425.1 421.4 426.1 421.5 427.1 421.6 428.1 421.8 429.1 421.9 430.1 423 431.1 424.2 432.1 425.4 433.1 426.6 434.1 428.9 435.1 431.9 436.1 434.8 437.1 437.7 438.1 440.2 439.1 442.6 440.1 445 441.1 447.4 442.1 448.7 443.1 449.7 444.1 450.7 445.1 451.7 446.1 452.7 447.1 453.7 448.1 454.7 449.1 455.2 450.1 455.7 451.1 456.2 452.1 456.7 453.1 457.2 454.1 457.7 455.1 458.2 456.1 458.5 457.1 458.9 458.1 459.2 459.1 459.6 460.1 459.9 461.1 460.6 462.1 461.4 463.1 462.2 464.1 462.9 465.1 463.7 466.1 465.1 467.1 466.9 468.1 468.7 469.1 470.3 470.1 471.7 471.1 473 472.1 474.4 473.1 475.8 474.1 477 475.1 478 476.1 479 477.1 480 478.1 481 479.1 482 480.1 483 481.1 484 482.1 485 483.1 485.9 484.1 486.9 485.1 487.9 486.1 488.9 487.1 489.6 488.1 490.4 489.1 491.1 490.1 491.9 491.1 492.6 492.1 493.4 493.1 494.1 494.1 494.5 495.1 494.8 496.1 495.2 497.1 495.6 498.1 496 499.1 496.3 500.1 496.8 501.1 497.2 502.1 497.8 503.1 498.2 504.1 498.8 505.1 499.2 506.1 499.8 507.1 500.2 508.1 500.8 509.1 501.2 510.1 501.8 511.1 500.7 512.1 499.4 513.1 498.1 514.1 497.1 515.1 496.2 516.1 495.4 517.1 494.5 518.1 493.7 519.1 492.9 520.1 492 521.1 491.2 522.1 490.4 523.1 489.5 524.1 488.7 525.1 487.9 526.1 487.1 527.1 486.2 528.1 485.4 529.1 484.6 530.1 484.3 531.1 484 532.1 483.8 533.1 483.9 534.1 484.5 535.1 485.2 536.1 485.9 537.1 486.6 538.1 487.3 539.1 488.1 540.1 489 541.1 489.8 542.1 490.6 543.1 491.5 544.1 492.1" stroke="#a8203f" stroke-width="1.35" fill="none"/>
<path d="M37.6 185.4 37.9 185.7 38.1 186 38.4 185.5 38.6 185.8 38.9 186.6 39.1 186.6 39.4 186.4 39.6 186.5 39.9 186.5 40.1 186.8 40.4 187 40.6 187.8 40.9 187.2 41.1 187.3 41.4 187.1 41.6 187.2 41.9 187.8 42.1 187.1 42.4 188 42.6 187.6 42.9 187.3 43.1 187.1 43.4 187.2 43.6 187.2 43.9 187.2 44.1 186.9 44.4 187 44.6 186.9 44.9 186.8 45.1 186.9 45.4 186.4 45.6 187 45.9 186.3 46.1 186.6 46.4 186.6 46.6 185.9 46.9 186.9 47.1 187.3 47.4 186.1 47.6 185.7 47.9 186.8 48.1 187.1 48.4 186.7 48.6 186.4 48.9 186.6 49.1 186.6 49.4 186.8 49.6 187 49.9 186.2 50.1 186.6 50.4 186.3 50.6 186.1 50.9 186.5 51.1 186.1 51.4 186.4 51.6 186.5 51.9 186.2 52.1 186.5 52.4 186.5 52.6 187.4 52.9 186.5 53.1 186.5 53.4 186.5 53.6 186.8 53.9 186.7 54.1 186.4 54.4 187.1 54.6 186.7 54.9 186.7 55.1 187 55.4 186.7 55.6 186.9 55.9 187.1 56.1 186.8 56.4 187.3 56.6 187.2 56.9 186.9 57.1 187 57.4 187.7 57.6 187.1 57.9 187.5 58.1 187.3 58.4 187.2 58.6 187.2 58.9 187.4 59.1 187.4 59.4 188.6 59.6 188.1 59.9 187 60.1 187.7 60.4 187.8 60.6 187.6 60.9 187.5 61.1 186.7 61.4 186.5 61.6 186.9 61.9 187.2 62.1 186.3 62.4 186.2 62.6 187.3 62.9 186.9 63.1 186.2 63.4 186.7 63.6 186.2 63.9 186.3 64.1 186.4 64.3 186.6 64.6 186.5 64.8 186.9 65.1 186.8 65.3 186.7 65.6 188.1 65.8 186.3 66.1 186.6 66.3 186.7 66.6 187.2 66.8 186.9 67.1 187.1 67.3 187.1 67.6 187.8 67.8 188.5 68.1 188.4 68.3 187.6 68.6 187.7 68.8 187.3 69.1 187.4 69.3 187.3 69.6 187.4 69.8 187.5 70.1 187 70.3 187.4 70.6 187.9 70.8 187.9 71.1 187.2 71.3 187.1 71.6 187.7 71.8 187.8 72.1 187.8 72.3 187.1 72.6 187.1 72.8 186.5 73.1 187.7 73.3 187.9 73.6 186.5 73.8 188 74.1 187.7 74.3 187.2 74.6 187.7 74.8 187.4 75.1 188.2 75.3 187.6 75.6 188.2 75.8 187.5 76.1 188 76.3 187.8 76.6 187.9 76.8 187.9 77.1 188 77.3 188 77.6 187.7 77.8 188.4 78.1 188.3 78.3 188.6 78.6 188.2 78.8 188.9 79.1 188.8 79.3 189.2 79.6 188.9 79.8 189.3 80.1 189 80.3 189.8 80.6 189.5 80.8 189.7 81.1 189.1 81.3 188.8 81.6 189.2 81.8 189.2 82.1 189.6 82.3 189.8 82.6 189.4 82.8 189.6 83.1 189.4 83.3 189.5 83.6 189.2 83.8 189.8 84.1 189 84.3 189.5 84.6 189.8 84.8 189 85.1 189.1 85.3 189.5 85.6 189.7 85.8 189.7 86.1 189.2 86.3 188.8 86.6 189.4 86.8 188.7 87.1 189.6 87.3 188.4 87.6 188.5 87.8 188.1 88.1 187.4 88.3 186.5 88.6 186.3 88.8 185.4 89.1 185.6 89.3 185.5 89.6 186 89.8 186.5 90.1 185.8 90.3 186.3 90.6 186.7 90.8 188 91.1 187.1 91.3 187.2 91.6 186.7 91.8 187.2 92.1 187.5 92.3 187 92.6 187.2 92.8 187.3 93.1 187 93.3 186.8 93.6 187.5 93.8 187.5 94.1 187.1 94.3 188.1 94.6 187.3 94.8 186.8 95.1 186.8 95.3 186.5 95.6 186.1 95.8 186 96.1 186.5 96.3 185.8 96.6 185.8 96.8 186.1 97.1 185.9 97.3 185.8 97.6 186.1 97.8 186 98.1 187.6 98.3 187.1 98.6 186.8 98.8 187.1 99.1 187.2 99.3 187.4 99.6 187.2 99.8 186.7 100.1 187.4 100.3 187.3 100.6 187 100.8 186.9 101.1 187.6 101.3 187.5 101.6 187.9 101.8 187.9 102.1 187.2 102.3 187.3 102.6 187.6 102.8 187.4 103.1 187.8 103.3 188 103.6 188 103.8 187.8 104.1 187.9 104.3 188 104.6 187.9 104.8 186.4 105.1 187.8 105.3 187.6 105.6 188 105.8 188.7 106.1 187.5 106.3 188 106.6 187.5 106.8 187.6 107.1 186.8 107.3 187.6 107.6 187.8 107.8 187.3 108.1 187.9 108.3 187.6 108.6 187.9 108.8 188.4 109.1 187.2 109.3 187.7 109.6 188.6 109.8 188 110.1 188 110.3 188 110.6 188.5 110.8 188.3 111.1 189 111.3 189 111.6 189.7 111.8 188.5 112.1 188.8 112.3 187.6 112.6 188.2 112.8 188.7 113.1 188.8 113.3 189.2 113.6 188.6 113.8 188.7 114.1 188.7 114.3 189 114.6 189.3 114.8 188.8 115.1 189 115.3 189.2 115.6 189.3 115.8 188.9 116.1 188.9 116.3 189.4 116.6 189 116.8 189 117.1 189.1 117.3 189.6 117.6 188.1 117.8 188.7 118.1 189.4 118.3 188.7 118.6 189.5 118.8 189.5 119.1 189 119.3 189.3 119.6 188.9 119.8 188.9 120.1 188.6 120.3 188.6 120.6 189.1 120.8 188.5 121.1 189.1 121.3 188.5 121.6 189.4 121.8 189 122.1 189.2 122.3 189.2 122.6 188.6 122.8 188.5 123.1 188 123.3 189.3 123.6 188.8 123.8 189.2 124.1 189 124.3 189.2 124.6 188.9 124.8 188.4 125.1 188.9 125.3 188.5 125.6 188.8 125.8 188.3 126.1 188.7 126.3 188.7 126.6 188.5 126.8 188.7 127.1 188.4 127.3 188.3 127.6 188 127.8 188 128.1 188.5 128.3 188.7 128.6 188.6 128.8 188 129.1 188.5 129.3 188 129.6 187.9 129.8 188.3 130.1 188.4 130.3 187.5 130.6 187.8 130.8 187.1 131.1 187.9 131.3 188.3 131.6 187.8 131.8 187.9 132.1 187.7 132.3 188.4 132.6 188.6 132.8 188.6 133.1 187.9 133.3 188.2 133.6 188.3 133.8 188.6 134.1 188.3 134.3 188.6 134.6 188 134.8 187.7 135.1 188.1 135.3 186.8 135.6 188.3 135.8 188.4 136.1 187.9 136.3 187.6 136.6 188.2 136.8 187.8 137.1 187.6 137.3 187.8 137.6 187.8 137.8 186.3 138.1 187.8 138.3 187 138.6 187.7 138.8 187.8 139.1 187.3 139.3 187 139.6 187.9 139.8 187.5 140.1 188 140.3 187.7 140.6 187.7 140.8 187.4 141.1 188.2 141.3 187.7 141.6 187.7 141.8 187.8 142.1 187.5 142.3 187.9 142.6 188.3 142.8 188.3 143.1 187.3 143.3 187.8 143.6 187.4 143.8 188 144.1 187.7 144.3 187.5 144.6 187.9 144.8 187.1 145.1 187 145.3 187.6 145.6 187 145.8 187.6 146.1 187 146.3 186.7 146.6 187.4 146.8 186.6 147.1 186.4 147.3 187 147.6 186.9 147.8 186.2 148.1 187.1 148.3 186.3 148.6 186.3 148.8 186 149.1 186.8 149.3 186.7 149.6 186.7 149.8 186.3 150.1 185.7 150.3 185.8 150.6 186.3 150.8 185.5 151.1 185.9 151.3 185.5 151.6 186.3 151.8 185.5 152.1 185.4 152.3 186.2 152.6 185.5 152.8 186.2 153.1 185.5 153.3 186.1 153.6 185.9 153.8 185.2 154.1 185.9 154.3 185.7 154.6 185.6 154.8 185.6 155.1 185.2 155.3 185.9 155.6 185.2 155.8 185.8 156.1 185.3 156.3 185 156.6 185.4 156.8 184.3 157.1 186 157.3 185.5 157.6 185.1 157.8 185.4 158.1 185.6 158.3 185.5 158.6 185.3 158.8 185.6 159.1 185.9 159.3 185.8 159.6 186 159.8 185.1 160.1 185.7 160.3 185.6 160.6 186 160.8 185.5 161.1 185.9 161.3 185.5 161.6 185.6 161.8 185.4 162.1 186.5 162.3 186 162.6 185.2 162.8 185.9 163.1 185.9 163.3 185.4 163.6 185.5 163.8 185.4 164.1 185.8 164.3 185 164.6 185.1 164.8 184.8 165.1 184.9 165.3 184.5 165.6 185.4 165.8 185.1 166.1 185.1 166.3 184.6 166.6 184.2 166.8 184.4 167.1 184.8 167.3 184 167.6 184.4 167.8 183.7 168.1 183.6 168.3 183.5 168.6 183.6 168.8 183.4 169.1 183.4 169.3 182.6 169.6 183 169.8 182.5 170.1 182.9 170.3 181.6 170.6 181.9 170.8 182.1 171.1 181.7 171.3 182.4 171.6 182 171.8 181.1 172.1 181.9 172.3 182.5 172.6 182.7 172.8 183.4 173.1 183 173.3 182.9 173.6 182.9 173.8 183.5 174.1 183.8 174.3 184 174.6 185 174.8 184 175.1 184.3 175.3 183.6 175.6 184.6 175.8 184.6 176.1 184.6 176.3 184.1 176.6 184.7 176.8 184.1 177.1 183.9 177.3 185.2 177.6 183.5 177.8 183.3 178.1 183.5 178.3 183.7 178.6 182.9 178.8 183.1 179.1 182.8 179.3 182.5 179.6 182.3 179.8 181.8 180.1 183.2 180.3 182.5 180.6 183.4 180.8 183.4 181.1 182.6 181.3 182.8 181.6 183.1 181.8 183.1 182.1 183 182.3 183.5 182.6 183 182.8 183.2 183.1 182.3 183.3 182.7 183.6 183 183.8 182.5 184.1 182.8 184.3 183.4 184.6 182.1 184.8 181.9 185.1 182.4 185.3 181.8 185.6 182.4 185.8 182 186.1 182.4 186.3 181.7 186.6 182 186.8 181.4 187.1 181.4 187.3 181.3 187.6 181.8 187.8 181.4 188.1 181.8 188.3 181.3 188.6 181 188.8 181 189.1 181.5 189.3 181.6 189.6 181.4 189.8 180.8 190.1 180.8 190.3 181.4 190.6 180.4 190.8 180.6 191.1 181 191.3 180 191.6 181 191.8 180.7 192.1 180 192.3 180 192.6 179.7 192.8 179.4 193.1 180.8 193.3 179.1 193.6 179.3 193.8 179.6 194.1 180.1 194.3 178.5 194.6 179.3 194.8 179.5 195.1 179.4 195.3 179.6 195.6 179.1 195.8 180.1 196.1 179.2 196.3 180.3 196.6 180 196.8 180.3 197.1 181.6 197.3 181.5 197.6 180.1 197.8 179.9 198.1 180.3 198.3 180.3 198.6 180.2 198.8 180.4 199.1 180.3 199.3 180.4 199.6 180.3 199.8 180.6 200.1 179.3 200.3 180.2 200.6 180.6 200.8 181.2 201.1 181.1 201.3 180.8 201.6 181.1 201.8 180.7 202.1 180.6 202.3 181.4 202.6 180.9 202.8 180.9 203.1 181 203.3 180.5 203.6 181.4 203.8 179.9 204.1 180.5 204.3 181.6 204.6 180.7 204.8 181 205.1 180.9 205.3 180.7 205.6 180.6 205.8 180.5 206.1 180.7 206.3 181.3 206.6 181.3 206.8 181.1 207.1 181.1 207.3 179.8 207.6 180.8 207.8 181 208.1 181.1 208.3 180.6 208.6 180.5 208.8 180.8 209.1 180.9 209.3 180.1 209.6 180.5 209.8 180.8 210.1 180.5 210.3 181.4 210.6 179.9 210.8 179.8 211.1 179.8 211.3 180.1 211.6 181.1 211.8 180.2 212.1 179.5 212.3 179.4 212.6 179.9 212.8 179.2 213.1 179.6 213.3 179.5 213.6 179.1 213.8 179.6 214.1 179.8 214.3 179.7 214.6 179.4 214.8 178.5 215.1 179.4 215.3 178.9 215.6 178.4 215.8 179 216.1 177.9 216.3 178.7 216.6 177.9 216.8 178.5 217.1 177.3 217.3 177.5 217.6 178.2 217.8 177 218.1 177.1 218.3 178 218.6 178 218.8 177.3 219.1 177.7 219.3 177.6 219.6 177.5 219.8 178.3 220.1 178.3 220.3 177.6 220.6 177.5 220.8 178.5 221.1 178.1 221.3 179.2 221.6 177.8 221.8 177.7 222.1 177.8 222.3 177.5 222.6 177.8 222.8 178.1 223.1 177.6 223.3 179 223.6 177.4 223.8 177.3 224.1 177.9 224.3 177.6 224.6 177.7 224.8 177.7 225.1 177.7 225.3 177.3 225.6 177.8 225.8 177.9 226.1 177.7 226.3 179.2 226.6 178 226.8 178 227.1 177.7 227.3 177.7 227.6 177.8 227.8 177.9 228.1 178.3 228.3 178.8 228.6 179.4 228.8 178.6 229.1 178.3 229.3 177.9 229.6 178.4 229.8 178.8 230.1 178.8 230.3 178.1 230.6 178 230.8 179.5 231.1 178.5 231.3 178.1 231.6 178.8 231.8 178.8 232.1 177.9 232.3 178.5 232.6 178.1 232.8 178 233.1 178.4 233.3 178.6 233.6 178.5 233.8 178.6 234.1 177.7 234.3 178.4 234.6 177.6 234.8 177.9 235.1 177.3 235.3 177.8 235.6 176.8 235.8 177.6 236.1 177.1 236.3 177 236.6 176.5 236.8 177.1 237.1 177.5 237.3 176.8 237.6 176.9 237.8 176.7 238.1 176.6 238.3 176.1 238.6 176.2 238.8 175.7 239.1 176.1 239.3 175.6 239.6 175.4 239.8 174.1 240.1 175.8 240.3 175.7 240.6 175.2 240.8 175.2 241.1 174.8 241.3 175.1 241.6 175 241.8 174.2 242.1 174.6 242.3 175 242.6 173.8 242.8 173.3 243.1 173.1 243.3 173.1 243.6 173 243.8 172.8 244.1 172.8 244.3 171 244.6 172.1 244.8 172.2 245.1 172.3 245.3 171.5 245.6 171.6 245.8 171.2 246.1 170.4 246.3 171.4 246.6 171.4 246.8 169.3 247.1 169.8 247.3 170.3 247.6 169.6 247.8 170.8 248.1 169.5 248.3 169.6 248.6 168.9 248.8 169.6 249.1 168.8 249.3 168.8 249.6 168.5 249.8 168.3 250.1 167.9 250.3 167.7 250.6 168.5 250.8 168.1 251.1 167.9 251.3 167.8 251.6 166.8 251.8 166.6 252.1 165.4 252.3 164.7 252.6 164.8 252.8 164.3 253.1 163.6 253.3 162.5 253.6 162 253.8 160.5 254.1 160.9 254.3 160.4 254.6 161.5 254.8 162.3 255.1 163.4 255.3 163.2 255.6 165.1 255.8 164.9 256.1 165.2 256.4 166.3 256.6 166 256.9 167.1 257.1 168.4 257.4 168.3 257.6 167.4 257.9 167.4 258.1 166.9 258.4 166.3 258.6 165.1 258.9 163.6 259.1 163.8 259.4 163.9 259.6 164 259.9 164.7 260.1 164.8 260.4 164.3 260.6 165.1 260.9 165.7 261.1 166.3 261.4 165.5 261.6 166.2 261.9 166.3 262.1 166.7 262.4 167.1 262.6 167.5 262.9 168.9 263.1 167.5 263.4 168.1 263.6 168 263.9 167 264.1 167.6 264.4 167.2 264.6 166.4 264.9 166.7 265.1 167.5 265.4 166.1 265.6 166 265.9 167 266.1 166.2 266.4 167 266.6 166.7 266.9 166.1 267.1 166.7 267.4 167 267.6 166.3 267.9 166.8 268.1 166.6 268.4 166.4 268.6 166.4 268.9 165.2 269.1 165 269.4 165.1 269.6 165.7 269.9 164.7 270.1 164.9 270.4 164.6 270.6 164.8 270.9 163.8 271.1 165 271.4 163.6 271.6 164.8 271.9 165.5 272.1 163.6 272.4 164.4 272.6 162.5 272.9 164.4 273.1 164.6 273.4 164.1 273.6 164.2 273.9 164.3 274.1 162.8 274.4 163.2 274.6 165.3 274.9 163.6 275.1 162.4 275.4 163.1 275.6 162.4 275.9 163.7 276.1 163.3 276.4 163.5 276.6 163.3 276.9 162.6 277.1 162.9 277.4 162.7 277.6 162.3 277.9 163.2 278.1 162.5 278.4 161.9 278.6 162.7 278.9 163 279.1 161.7 279.4 162.8 279.6 162.4 279.9 162.4 280.1 162.4 280.4 162.9 280.6 163.2 280.9 162.8 281.1 162.8 281.4 163.9 281.6 163.8 281.9 163 282.1 164 282.4 163.1 282.6 162.8 282.9 163.1 283.1 163.3 283.4 163.7 283.6 163.4 283.9 164.9 284.1 162.6 284.4 163.6 284.6 162.1 284.9 162.6 285.1 163.5 285.4 162 285.6 162.7 285.9 162.9 286.1 163.6 286.4 163.4 286.6 163.3 286.9 163.9 287.1 163.7 287.4 162.4 287.6 161.9 287.9 161.9 288.1 160.9 288.4 161.7 288.6 161.5 288.9 159.4 289.1 159.5 289.4 159.3 289.6 161.2 289.9 159.3 290.1 158.1 290.4 158.4 290.6 156.8 290.9 157.9 291.1 156.6 291.4 156.7 291.6 157.1 291.9 155.9 292.1 155 292.4 155.8 292.6 155.6 292.9 154.2 293.1 153.2 293.4 153.6 293.6 152.6 293.9 153.7 294.1 152.8 294.4 152.4 294.6 151.9 294.9 152.5 295.1 151.7 295.4 152.1 295.6 150.3 295.9 151.4 296.1 149.6 296.4 149.5 296.6 151 296.9 150.3 297.1 150.3 297.4 148.2 297.6 151.8 297.9 148.6 298.1 148.3 298.4 148.6 298.6 147.2 298.9 147.9 299.1 146.3 299.4 145.6 299.6 146.1 299.9 146 300.1 144.3 300.4 143.7 300.6 141.2 300.9 143.7 301.1 144.2 301.4 144.3 301.6 144.5 301.9 145.8 302.1 146.2 302.4 146 302.6 147.6 302.9 146.8 303.1 147.4 303.4 148.6 303.6 149.7 303.9 147.6 304.1 148 304.4 149.3 304.6 148.5 304.9 149.9 305.1 148.5 305.4 148.4 305.6 148.6 305.9 150.5 306.1 149.2 306.4 146.2 306.6 148.4 306.9 150.3 307.1 148.3 307.4 146.4 307.6 146.7 307.9 146 308.1 145.5 308.4 146 308.6 145.4 308.9 147.4 309.1 144.5 309.4 145.1 309.6 143.1 309.9 144.1 310.1 144.8 310.4 146.6 310.6 148.7 310.9 150.7 311.1 150.6 311.4 152 311.6 155.1 311.9 155.4 312.1 154.9 312.4 155.5 312.6 155.2 312.9 156.3 313.1 157.4 313.4 155.5 313.6 153.7 313.9 151.3 314.1 150.7 314.4 148.7 314.6 148.6 314.9 149.9 315.1 151.7 315.4 153 315.6 154.9 315.9 155.5 316.1 157.4 316.4 160.1 316.6 160 316.9 158.9 317.1 160.4 317.4 159.9 317.6 159.7 317.9 159.7 318.1 159.3 318.4 157.2 318.6 157.1 318.9 156.8 319.1 155.6 319.4 155.1 319.6 154.9 319.9 154.8 320.1 153.1 320.4 153.4 320.6 153.2 320.9 153.2 321.1 152 321.4 152.2 321.6 151.4 321.9 150.7 322.1 152.3 322.4 150.6 322.6 151 322.9 151.4 323.1 150.4 323.4 148.8 323.6 148.6 323.9 147.7 324.1 146.9 324.4 145.9 324.6 146.1 324.9 145.1 325.1 143 325.4 143.8 325.6 142.3 325.9 144.8 326.1 145.2 326.4 145.8 326.6 145.8 326.9 146.8 327.1 144 327.4 146 327.6 149 327.9 147.2 328.1 148.5 328.4 148.7 328.6 148.8 328.9 150.1 329.1 148.5 329.4 148 329.6 148.7 329.9 149.1 330.1 149.1 330.4 148.2 330.6 148 330.9 147.7 331.1 148.3 331.4 146.4 331.6 145.9 331.9 145 332.1 145.6 332.4 144.9 332.6 144.6 332.9 144.2 333.1 143.9 333.4 144.8 333.6 145.8 333.9 144.7 334.1 146.6 334.4 145.8 334.6 146.1 334.9 146.3 335.1 145.3 335.4 146.5 335.6 145.9 335.9 145.5 336.1 146.4 336.4 145.5 336.6 146.1 336.9 144.1 337.1 144.5 337.4 144 337.6 144.8 337.9 143.3 338.1 143.4 338.4 142.5 338.6 142.4 338.9 143.5 339.1 143.1 339.4 142.9 339.6 140.9 339.9 140.9 340.1 143.3 340.4 141.5 340.6 141.4 340.9 141.1 341.1 139 341.4 140.3 341.6 139.9 341.9 139 342.1 139.5 342.4 137.9 342.6 139.3 342.9 136.7 343.1 138.1 343.4 138.5 343.6 137.7 343.9 136.8 344.1 136.4 344.4 133.3 344.6 133.8 344.9 129.9 345.1 130.3 345.4 129.3 345.6 126.7 345.9 131.9 346.1 132.3 346.4 133.2 346.6 133.6 346.9 133.6 347.1 134.9 347.4 134.5 347.6 133.6 347.9 132.6 348.1 133.4 348.4 132 348.6 132 348.9 131.7 349.1 132 349.4 132.5 349.6 132.6 349.9 133.6 350.1 132.6 350.4 133.8 350.6 131.1 350.9 133.4 351.1 131.7 351.4 131.3 351.6 130.9 351.9 131 352.1 132.1 352.4 131.5 352.6 130.7 352.9 131.5 353.1 130.2 353.4 130.5 353.6 130.1 353.9 129 354.1 129.4 354.4 129 354.6 128.4 354.9 129.8 355.1 127.4 355.4 129.2 355.6 126.5 355.9 128.7 356.1 127 356.4 128 356.6 127.2 356.9 126.6 357.1 125.2 357.4 124.8 357.6 128.6 357.9 125.3 358.1 126.5 358.4 125.3 358.6 125.7 358.9 127.2 359.1 126.7 359.4 127.3 359.6 127.6 359.9 128.3 360.1 131 360.4 126.9 360.6 131.2 360.9 130.4 361.1 130.5 361.4 128.9 361.6 129.8 361.9 130.1 362.1 128.8 362.4 128.6 362.6 128.5 362.9 127.8 363.1 127.9 363.4 128.5 363.6 127.7 363.9 123.3 364.1 124.6 364.4 123.8 364.6 123.3 364.9 122.9 365.1 124 365.4 121.7 365.6 122.1 365.9 120.5 366.1 121 366.4 119.2 366.6 117.9 366.9 120 367.1 117.1 367.4 118.8 367.6 117.9 367.9 120 368.1 117.6 368.4 114.8 368.6 114.9 368.9 117.5 369.1 116 369.4 118 369.6 117.2 369.9 115.7 370.1 118.2 370.4 117 370.6 116.4 370.9 116.7 371.1 116.6 371.4 120.8 371.6 118.4 371.9 118 372.1 118.6 372.4 119.4 372.6 117.5 372.9 118.2 373.1 121.1 373.4 119.1 373.6 120.6 373.9 120.2 374.1 117.8 374.4 117.3 374.6 117 374.9 116.1 375.1 116.4 375.4 115.6 375.6 115.5 375.9 115.8 376.1 118.7 376.4 113.2 376.6 115.2 376.9 114.5 377.1 112.1 377.4 114.5 377.6 113.1 377.9 113.7 378.1 112.5 378.4 109.6 378.6 109.9 378.9 108.8 379.1 110.7 379.4 109.3 379.6 110.2 379.9 106.5 380.1 108.4 380.4 107.7 380.6 104 380.9 103.7 381.1 107.6 381.4 107.7 381.6 105.4 381.9 105.9 382.1 107.3 382.4 105.2 382.6 105 382.9 105.1 383.1 108 383.4 105.8 383.6 104.9 383.9 104.7 384.1 103.9 384.4 104.9 384.6 105.2 384.9 103.5 385.1 104.3 385.4 104.2 385.6 100.3 385.9 102.7 386.1 99.3 386.4 101.5 386.6 97.6 386.9 97 387.1 96 387.4 93.2 387.6 90.2 387.9 88.9 388.1 86.5 388.4 87.9 388.6 83.2 388.9 82.8 389.1 84.7 389.4 84.3 389.6 88.5 389.9 86.8 390.1 91.3 390.4 91.9 390.6 95.8 390.9 96.1 391.1 98.3 391.4 99.5 391.6 99.3 391.9 95.4 392.1 94.8 392.4 90.1 392.6 93.2 392.9 93.3 393.1 91.9 393.4 92.5 393.6 92.1 393.9 88.9 394.1 93.2 394.4 93.3 394.6 94.8 394.9 97.3 395.1 97.9 395.4 98.6 395.6 97.9 395.9 99.5 396.1 99.5 396.4 101.2 396.6 101.8 396.9 101.6 397.1 101 397.4 103.8 397.6 105.3 397.9 102.4 398.1 101.1 398.4 100.6 398.6 99.7 398.9 98.4 399.1 94.7 399.4 96.3 399.6 94.2 399.9 94.2 400.1 91.3 400.4 94.2 400.6 90.3 400.9 89.9 401.1 92.3 401.4 94.3 401.6 95.3 401.9 93.6 402.1 96.7 402.4 95 402.6 94.5 402.9 96.1 403.1 96 403.4 95 403.6 96 403.9 96.7 404.1 98.8 404.4 98.1 404.6 99.7 404.9 96.8 405.1 99.6 405.4 98.5 405.6 98.5 405.9 104.2 406.1 98.7 406.4 100.2 406.6 99.7 406.9 100.9 407.1 102.5 407.4 100.7 407.6 102.6 407.9 100.7 408.1 102.3 408.4 100.4 408.6 101.9 408.9 102.4 409.1 102.2 409.4 100.7 409.6 102.4 409.9 101.5 410.1 103.1 410.4 101.2 410.6 101 410.9 101.2 411.1 103.2 411.4 102.8 411.6 104.5 411.9 100.7 412.1 101.4 412.4 102.3 412.6 100.5 412.9 101.7 413.1 99.2 413.4 100.4 413.6 97.8 413.9 99 414.1 97.1 414.4 98.3 414.6 95.8 414.9 96.7 415.1 94.3 415.4 94.5 415.6 94.3 415.9 92.9 416.1 92.8 416.4 91.8 416.6 93.8 416.9 89.6 417.1 89.5 417.4 92.3 417.6 92.9 417.9 93 418.1 91.2 418.4 91.3 418.6 94.3 418.9 88.3 419.1 92.3 419.4 93.5 419.6 93 419.9 92.4 420.1 95.2 420.4 97.7 420.6 92.3 420.9 92.5 421.1 92.5 421.4 94.7 421.6 95.5 421.9 94.1 422.1 95.3 422.4 96.9 422.6 95.5 422.9 96.4 423.1 97 423.4 96.7 423.6 97.8 423.9 96 424.1 98.4 424.4 96.5 424.6 99 424.9 102 425.1 96.6 425.4 97.4 425.6 97.9 425.9 101.5 426.1 102.3 426.4 103 426.6 103.1 426.9 103 427.1 100.7 427.4 103.9 427.6 101.1 427.9 103.5 428.1 102.4 428.4 105.3 428.6 105.7 428.9 101.9 429.1 105.6 429.4 107.6 429.6 107.7 429.9 111.1 430.1 112.1 430.4 112.1 430.6 115 430.9 118 431.1 116.8 431.4 115.9 431.6 112.3 431.9 110.9 432.1 113.9 432.4 114.1 432.6 115.8 432.9 116.5 433.1 118.1 433.4 118.1 433.6 118.4 433.9 119.2 434.1 119.6 434.4 122.1 434.6 124.4 434.9 125.4 435.1 126.5 435.4 124.5 435.6 124.1 435.9 123.2 436.1 120.6 436.4 121.5 436.6 120.7 436.9 120.2 437.1 118.2 437.4 116.6 437.6 117.6 437.9 117.5 438.1 117.5 438.4 117.9 438.6 116.4 438.9 118.1 439.1 117.6 439.4 118.1 439.6 116.6 439.9 117.2 440.1 117.9 440.4 117.3 440.6 119.8 440.9 119.5 441.1 119.7 441.4 123.2 441.6 124.9 441.9 121.2 442.1 120.7 442.4 119.3 442.6 119.5 442.9 120.2 443.1 121.3 443.4 121.6 443.6 120.2 443.9 120.6 444.1 122.1 444.4 121.1 444.6 122.8 444.9 121.9 445.1 122.2 445.4 122.5 445.6 122.6 445.9 122.9 446.1 123.4 446.4 123.9 446.6 124.2 446.9 125.3 447.1 125.8 447.4 124.3 447.6 127.3 447.9 125.7 448.1 128.6 448.4 128.9 448.6 126.7 448.9 128.6 449.1 126.9 449.4 127.2 449.6 126.6 449.9 125.3 450.1 124.2 450.4 125.2 450.6 124.5 450.9 125.2 451.1 125.3 451.4 127.9 451.6 123.7 451.9 124.9 452.1 124.2 452.4 123.8 452.6 121.3 452.9 122.2 453.1 119.9 453.4 118.1 453.6 118.2 453.9 117.4 454.1 118 454.4 119.2 454.6 119.6 454.9 120.5 455.1 120.7 455.4 121.6 455.6 120.6 455.9 120.5 456.1 120 456.4 121.9 456.6 120.9 456.9 118.8 457.1 121.3 457.4 120.7 457.6 122.6 457.9 120.5 458.1 121.7 458.4 121 458.6 121.2 458.9 121.8 459.1 120.8 459.4 122.9 459.6 121.7 459.9 120 460.1 122.8 460.4 121.2 460.6 119.8 460.9 120.5 461.1 122.1 461.4 121.8 461.6 121.3 461.9 120.1 462.1 120.5 462.4 120.2 462.6 119.7 462.9 119.7 463.1 120.8 463.4 121.2 463.6 120.6 463.9 120.8 464.1 122.6 464.4 122.8 464.6 121 464.9 124 465.1 124.6 465.4 123.2 465.6 124.9 465.9 124.2 466.1 123.8 466.4 126.1 466.6 124.2 466.9 125.5 467.1 125.7 467.4 127 467.6 127.9 467.9 123.9 468.1 126.4 468.4 126.9 468.6 127.8 468.9 129.4 469.1 130.7 469.4 129.1 469.6 130.4 469.9 131.6 470.1 130.3 470.4 130.6 470.6 129.6 470.9 129 471.1 129.7 471.4 128.6 471.6 129.7 471.9 129.2 472.1 128.3 472.4 129.4 472.6 128.5 472.9 129 473.1 129.8 473.4 127.3 473.6 129.3 473.9 127.5 474.1 126.6 474.4 126 474.6 126.6 474.9 124.4 475.1 122.6 475.4 125.1 475.6 127.3 475.9 122 476.1 125.8 476.4 127.2 476.6 128.6 476.9 126.9 477.1 127.5 477.4 129.6 477.6 129 477.9 128.2 478.1 130.8 478.4 130.2 478.6 127.9 478.9 130.7 479.1 129.1 479.4 129.2 479.6 128 479.9 129.6 480.1 129.8 480.4 127.9 480.6 128.4 480.9 126.9 481.1 128.3 481.4 126.9 481.6 124.7 481.9 127.1 482.1 128.1 482.4 129.8 482.6 127.3 482.9 128.2 483.1 128.3 483.4 129.9 483.6 128.9 483.9 128.9 484.1 129.2 484.4 127.4 484.6 127.9 484.9 129.2 485.1 129 485.4 127.2 485.6 127.8 485.9 129.8 486.1 128.7 486.4 128.9 486.6 130.9 486.9 129.1 487.1 132 487.4 131.8 487.6 130.4 487.9 131.2 488.1 131.2 488.4 133.4 488.6 130.1 488.9 133.2 489.1 133.1 489.4 134.2 489.6 133.2 489.9 135 490.1 133.9 490.4 133.6 490.6 134.6 490.9 132.2 491.1 134.1 491.4 133.6 491.6 129.4 491.9 133.3 492.1 133 492.4 131.4 492.6 130.8 492.9 133.1 493.1 131.4 493.4 132.6 493.6 132.2 493.9 132.3 494.1 127.9 494.4 132.2 494.6 132.6 494.9 135.4 495.1 134 495.4 134.9 495.6 135.2 495.9 134.6 496.1 136.8 496.4 135.8 496.6 137 496.9 135.6 497.1 137.5 497.4 137.4 497.6 136.6 497.9 137.9 498.1 138.1 498.4 136 498.6 136.2 498.9 135.7 499.1 136.7 499.4 137.6 499.6 136.7 499.9 137.2 500.1 135.2 500.4 134.6 500.6 133.1 500.9 132.1 501.1 131.9 501.4 131.2 501.6 131.7 501.9 131.3 502.1 128.7 502.4 130.5 502.6 128.6 502.9 129.1 503.1 126 503.4 127.5 503.6 126 503.9 122.7 504.1 125.5 504.4 126.5 504.6 124.7 504.9 124.5 505.1 127 505.4 125.9 505.6 126.9 505.9 126.3 506.1 126.3 506.4 123.9 506.6 126.4 506.9 123.2 507.1 121.7 507.4 123.9 507.6 123.6 507.9 123.7 508.1 125.2 508.4 125.5 508.6 124.1 508.9 125.5 509.1 123.8 509.4 127.3 509.6 123.1 509.9 123 510.1 122.8 510.4 122.6 510.6 122.1 510.9 122.1 511.1 119.4 511.4 119.6 511.6 119 511.9 120 512.1 118.2 512.4 119.2 512.6 118.5 512.9 119.1 513.1 117.5 513.4 118.1 513.6 116.9 513.9 115 514.1 118.1 514.4 117.8 514.6 116.7 514.9 117.4 515.1 118.6 515.4 118.7 515.6 117.8 515.9 119.2 516.1 121 516.4 118.6 516.6 120.9 516.9 119.4 517.1 119 517.4 120.5 517.6 120.1 517.9 122.5 518.1 121.7 518.4 123.2 518.6 123.4 518.9 123.8 519.1 123.4 519.4 124.6 519.6 125 519.9 123.1 520.1 124.1 520.4 123.2 520.6 123.7 520.9 123.7 521.1 126 521.4 126.8 521.6 127.8 521.9 127.2 522.1 128 522.4 130.4 522.6 131.6 522.9 132.1 523.1 131.8 523.4 131.5 523.6 132.7 523.9 132.5 524.1 132.5 524.4 132.3 524.6 131.3 524.9 131.1 525.1 130.3 525.4 129.8 525.6 127.2 525.9 127.5 526.1 126.1 526.4 126.5 526.6 128.1 526.9 127.9 527.1 128.3 527.4 127.3 527.6 126.9 527.9 126.8 528.1 126.9 528.4 125.2 528.6 126.6 528.9 127 529.1 124.9 529.4 127.5 529.6 125.5 529.9 123.3 530.1 127.6 530.4 127.8 530.6 124.9 530.9 126.3 531.1 121.8 531.4 126.4 531.6 124.4 531.9 125.9 532.1 123.6 532.4 123.9 532.6 124.5 532.9 128.6 533.1 128.3 533.4 125.6 533.6 124.1 533.9 125.6 534.1 124.6 534.4 123.9 534.6 122.7 534.9 123.3 535.1 125.8 535.4 125.4 535.6 124.1 535.9 126.5 536.1 125.9 536.4 128.6 536.6 125.2 536.9 126.4 537.1 128.1 537.4 127.3 537.6 127.9 537.9 125.7 538.1 125.3 538.4 124.6 538.6 123 538.9 125.2 539.1 124.4 539.4 124.1 539.6 122.1 539.9 123.3 540.1 123.9 540.4 122.3 540.6 122.3 540.9 119.9 541.1 120.3 541.4 118.9 541.6 118.4 541.9 121.3 542.1 117.4 542.4 119.8 542.6 120.7 542.9 120.4 543.1 122.9 543.4 120.9 543.6 123.1 543.9 124 544.1 123.5" stroke="#000" stroke-width="1.6" fill="none" stroke-linejoin="round"/>
<path d="M37.6 667.7 37.9 667.8 38.1 667.6 38.4 666.8 38.6 667.6 38.9 667.4 39.1 666.9 39.4 666.8 39.6 666.2 39.9 666.3 40.1 666.7 40.4 666.5 40.6 666.1 40.9 665.3 41.1 665.3 41.4 665.9 41.6 665 41.9 665 42.1 664.4 42.4 664.8 42.6 664.9 42.9 664.3 43.1 663.9 43.4 664 43.6 663.6 43.9 663.9 44.1 664.3 44.4 663.5 44.6 662.2 44.9 663.2 45.1 663.2 45.4 662.8 45.6 662.6 45.9 662.6 46.1 661.9 46.4 662.9 46.6 662.7 46.9 662.5 47.1 663.1 47.4 663 47.6 663.2 47.9 663.1 48.1 663.4 48.4 663.4 48.6 663.3 48.9 663.6 49.1 664.1 49.4 663.8 49.6 664.4 49.9 664.4 50.1 664 50.4 664.6 50.6 665.1 50.9 665.7 51.1 665.8 51.4 665.4 51.6 666 51.9 666.6 52.1 666.1 52.4 666.3 52.6 666.6 52.9 667.1 53.1 666.9 53.4 667 53.6 666.6 53.9 667.1 54.1 667 54.4 666.3 54.6 667 54.9 666.5 55.1 666.5 55.4 666 55.6 666.2 55.9 665.8 56.1 666.3 56.4 666.6 56.6 666.7 56.9 666.6 57.1 665.7 57.4 666 57.6 666 57.9 666.1 58.1 666.7 58.4 666.4 58.6 667.3 58.9 667.4 59.1 667.5 59.4 667.2 59.6 667.1 59.9 667.4 60.1 668.2 60.4 667.4 60.6 667.7 60.9 668.2 61.1 668.1 61.4 667.7 61.6 667.4 61.9 667.2 62.1 667.6 62.4 667.7 62.6 667.6 62.9 667.8 63.1 667.7 63.4 667.8 63.6 667.4 63.9 667.3 64.1 667 64.3 667.7 64.6 667.4 64.8 667.9 65.1 667.8 65.3 668.1 65.6 667.5 65.8 667.8 66.1 667.6 66.3 667.5 66.6 667.9 66.8 667.8 67.1 667.6 67.3 667.3 67.6 667.1 67.8 667.5 68.1 667.1 68.3 667.2 68.6 667.4 68.8 666.8 69.1 666.7 69.3 666.8 69.6 666.9 69.8 666.5 70.1 666 70.3 665.6 70.6 665.8 70.8 667 71.1 665.7 71.3 666.1 71.6 666.4 71.8 667.3 72.1 666.1 72.3 666.3 72.6 666.6 72.8 666.8 73.1 666.4 73.3 666.7 73.6 666.8 73.8 667.1 74.1 667 74.3 668.2 74.6 667.5 74.8 667.5 75.1 667.4 75.3 667.6 75.6 667.9 75.8 667.7 76.1 667.3 76.3 667.4 76.6 667.1 76.8 668.1 77.1 667.2 77.3 666.8 77.6 667.1 77.8 667.3 78.1 666.7 78.3 666.4 78.6 666.6 78.8 666.4 79.1 666.7 79.3 666.4 79.6 666.9 79.8 666.5 80.1 667.2 80.3 667.3 80.6 667.1 80.8 666.6 81.1 667.3 81.3 666.7 81.6 667.1 81.8 666.8 82.1 666.6 82.3 666 82.6 667 82.8 667.3 83.1 666.4 83.3 666.4 83.6 666.8 83.8 666.8 84.1 666.4 84.3 666.4 84.6 666.6 84.8 666.3 85.1 666.8 85.3 666.7 85.6 666 85.8 666 86.1 666.5 86.3 666.8 86.6 666.2 86.8 665.9 87.1 666 87.3 666.9 87.6 666.2 87.8 666.9 88.1 666.8 88.3 666.6 88.6 666.2 88.8 666.6 89.1 666.4 89.3 666.8 89.6 666.8 89.8 666.9 90.1 666.6 90.3 666.8 90.6 665.7 90.8 666.6 91.1 666.8 91.3 666.6 91.6 667.1 91.8 666.6 92.1 666.5 92.3 666.4 92.6 667.2 92.8 666.9 93.1 667.2 93.3 666 93.6 667.2 93.8 668 94.1 667.4 94.3 667.1 94.6 667.1 94.8 666.6 95.1 666.5 95.3 666.5 95.6 667.4 95.8 666.7 96.1 666.7 96.3 667.1 96.6 666.6 96.8 667.3 97.1 666.7 97.3 666.3 97.6 667.1 97.8 666.3 98.1 667.2 98.3 666.6 98.6 666.3 98.8 666.7 99.1 666.3 99.3 666.3 99.6 666.3 99.8 666.7 100.1 666 100.3 666.9 100.6 666.9 100.8 666.7 101.1 667 101.3 667.1 101.6 668 101.8 667.1 102.1 667.2 102.3 667.5 102.6 667.1 102.8 666.9 103.1 667 103.3 667.5 103.6 667.1 103.8 666.9 104.1 666.9 104.3 667.4 104.6 666.8 104.8 666.8 105.1 667 105.3 666.8 105.6 667 105.8 667.3 106.1 667.3 106.3 667.3 106.6 667.5 106.8 667.6 107.1 667.3 107.3 667.4 107.6 666.8 107.8 666.8 108.1 667.3 108.3 666.6 108.6 665.8 108.8 667.4 109.1 666.8 109.3 666.5 109.6 666.6 109.8 666.9 110.1 667.1 110.3 667.5 110.6 667.2 110.8 666.7 111.1 667 111.3 667 111.6 666.9 111.8 666.2 112.1 667.7 112.3 666.8 112.6 666.5 112.8 667.4 113.1 667.7 113.3 667.1 113.6 667.1 113.8 667.2 114.1 667.2 114.3 667.2 114.6 667.8 114.8 667.6 115.1 667.2 115.3 666.6 115.6 667.8 115.8 668 116.1 667.8 116.3 667.6 116.6 667.2 116.8 667.8 117.1 667.8 117.3 666.6 117.6 667.7 117.8 667.7 118.1 667.7 118.3 667.8 118.6 667.8 118.8 667.4 119.1 666.9 119.3 667.4 119.6 667.7 119.8 668.1 120.1 667.7 120.3 667.7 120.6 667.5 120.8 668.1 121.1 668.3 121.3 668.3 121.6 668.1 121.8 668 122.1 667.7 122.3 668.1 122.6 667.5 122.8 667.7 123.1 668.5 123.3 668.2 123.6 667.7 123.8 668.2 124.1 668 124.3 667.9 124.6 668 124.8 668.6 125.1 668.4 125.3 668 125.6 668.3 125.8 668.7 126.1 668.2 126.3 668.3 126.6 668.1 126.8 668.5 127.1 667.5 127.3 668.4 127.6 668.3 127.8 668 128.1 668.3 128.3 668.9 128.6 668.5 128.8 668.2 129.1 668.4 129.3 668.9 129.6 668.8 129.8 668.1 130.1 668.2 130.3 668.5 130.6 668.7 130.8 668.4 131.1 668.3 131.3 668.6 131.6 668.9 131.8 668.4 132.1 668.2 132.3 668.2 132.6 669 132.8 668.3 133.1 669.3 133.3 668 133.6 668.4 133.8 668.5 134.1 669.8 134.3 668.7 134.6 668.3 134.8 668.9 135.1 668.7 135.3 668.1 135.6 668.9 135.8 668.4 136.1 668.9 136.3 668.7 136.6 668.9 136.8 668.4 137.1 668.8 137.3 668.2 137.6 668 137.8 668.7 138.1 669.6 138.3 668.8 138.6 668.9 138.8 667.2 139.1 668.5 139.3 667.5 139.6 668.7 139.8 668.5 140.1 668.6 140.3 669.6 140.6 668.8 140.8 667.3 141.1 668.1 141.3 668.4 141.6 669 141.8 668.4 142.1 668.5 142.3 668.7 142.6 668.2 142.8 668.1 143.1 668.9 143.3 669.8 143.6 668.6 143.8 668.3 144.1 667.4 144.3 668.1 144.6 668.7 144.8 668.3 145.1 669 145.3 668.6 145.6 668.2 145.8 668.4 146.1 668.6 146.3 668.9 146.6 667.4 146.8 668.2 147.1 667.6 147.3 668.5 147.6 667.7 147.8 668.3 148.1 668 148.3 668.4 148.6 668.8 148.8 668.4 149.1 668.8 149.3 668.8 149.6 668 149.8 667.9 150.1 668.5 150.3 668.2 150.6 668.1 150.8 668.6 151.1 668.1 151.3 668.3 151.6 667.4 151.8 668.5 152.1 668 152.3 668.1 152.6 667.7 152.8 667.6 153.1 667.7 153.3 668.3 153.6 668.4 153.8 668.3 154.1 668.1 154.3 667.8 154.6 667.9 154.8 668.1 155.1 668.8 155.3 668.2 155.6 668 155.8 668.4 156.1 667.5 156.3 667.5 156.6 667.8 156.8 668.2 157.1 667.4 157.3 668.2 157.6 668.1 157.8 668.8 158.1 668.2 158.3 667.4 158.6 667.5 158.8 667.5 159.1 667.6 159.3 667.7 159.6 667.9 159.8 667.3 160.1 667.9 160.3 667.7 160.6 667.3 160.8 667.6 161.1 668 161.3 667.8 161.6 667.9 161.8 667.4 162.1 667.4 162.3 668 162.6 667.7 162.8 668.1 163.1 667.9 163.3 667.2 163.6 668 163.8 667.2 164.1 667.5 164.3 667.9 164.6 667.6 164.8 667.3 165.1 667.9 165.3 668.1 165.6 667.5 165.8 668.1 166.1 668.1 166.3 667.3 166.6 668.8 166.8 667.9 167.1 667.6 167.3 667.6 167.6 667.5 167.8 667.3 168.1 667.9 168.3 667.4 168.6 667.7 168.8 667.3 169.1 668.3 169.3 667.9 169.6 667.5 169.8 668 170.1 667.6 170.3 667.9 170.6 667.8 170.8 667.9 171.1 667.4 171.3 667.7 171.6 668 171.8 667.8 172.1 668.2 172.3 667.7 172.6 667.5 172.8 667.9 173.1 667.7 173.3 668 173.6 667.5 173.8 667.8 174.1 667.7 174.3 668.8 174.6 667.7 174.8 668.1 175.1 667.5 175.3 667.3 175.6 667.6 175.8 667.3 176.1 667.9 176.3 667.1 176.6 667.4 176.8 667.8 177.1 667.9 177.3 667.4 177.6 667.6 177.8 667.7 178.1 667.2 178.3 667 178.6 667.8 178.8 667 179.1 667.4 179.3 667.1 179.6 667.8 179.8 667.7 180.1 667.2 180.3 667.1 180.6 666.8 180.8 667.4 181.1 667.3 181.3 667.1 181.6 667.1 181.8 667.5 182.1 667.4 182.3 666.9 182.6 666.3 182.8 666.8 183.1 667.5 183.3 667 183.6 666.6 183.8 667.2 184.1 666.9 184.3 667 184.6 667.3 184.8 667 185.1 666.8 185.3 667 185.6 666.8 185.8 666.4 186.1 665.5 186.3 666.5 186.6 667 186.8 666.7 187.1 666.4 187.3 667.5 187.6 666.1 187.8 666.7 188.1 665.9 188.3 666.2 188.6 666.6 188.8 666.3 189.1 666.4 189.3 665.8 189.6 666.3 189.8 665.6 190.1 666.5 190.3 666.1 190.6 665.8 190.8 665.9 191.1 665.7 191.3 666.1 191.6 665.8 191.8 665.8 192.1 665.6 192.3 665.3 192.6 665.8 192.8 665 193.1 664.8 193.3 665.4 193.6 665.4 193.8 664.7 194.1 665.7 194.3 665 194.6 664.7 194.8 664.7 195.1 664 195.3 664.1 195.6 664.5 195.8 663.7 196.1 663.3 196.3 663.1 196.6 663.8 196.8 662.7 197.1 663 197.3 662.4 197.6 662.6 197.8 662.7 198.1 662.1 198.3 661.9 198.6 661.7 198.8 661.6 199.1 661.1 199.3 661.1 199.6 661.3 199.8 662 200.1 661.9 200.3 660.5 200.6 661.8 200.8 662.7 201.1 662.4 201.3 662.6 201.6 662.6 201.8 663.2 202.1 662.6 202.3 664.2 202.6 663.7 202.8 662.8 203.1 663.2 203.3 663.6 203.6 663.1 203.8 663.5 204.1 663.8 204.3 663.9 204.6 664.2 204.8 664.7 205.1 664.1 205.3 665.4 205.6 664.2 205.8 664.1 206.1 664.2 206.3 664.7 206.6 664 206.8 664.6 207.1 664.2 207.3 663.7 207.6 663.3 207.8 664 208.1 663.1 208.3 663.2 208.6 663.1 208.8 662.5 209.1 663.1 209.3 662.9 209.6 662.8 209.8 663 210.1 662.4 210.3 662.2 210.6 661.9 210.8 662.1 211.1 661.8 211.3 662.8 211.6 661.8 211.8 661.5 212.1 661.7 212.3 661.8 212.6 661.6 212.8 662.7 213.1 662.7 213.3 662.6 213.6 661.9 213.8 661.8 214.1 662.6 214.3 661.8 214.6 662.8 214.8 662.7 215.1 662.9 215.3 662.2 215.6 663.2 215.8 661.8 216.1 662.6 216.3 661.7 216.6 661.4 216.8 661.3 217.1 661.8 217.3 661.4 217.6 662 217.8 661.4 218.1 661.5 218.3 661.8 218.6 660.8 218.8 661.2 219.1 661.1 219.3 661 219.6 661.1 219.8 661.7 220.1 661.7 220.3 661.5 220.6 661.3 220.8 661.8 221.1 661.9 221.3 661.9 221.6 662.3 221.8 660.6 222.1 662 222.3 661.6 222.6 662.1 222.8 661.5 223.1 662.1 223.3 661.5 223.6 661.3 223.8 663.2 224.1 661.6 224.3 661.5 224.6 661.5 224.8 661.4 225.1 662.2 225.3 661.5 225.6 661.1 225.8 662.2 226.1 662 226.3 662 226.6 662.1 226.8 661.6 227.1 661.7 227.3 661.4 227.6 661.2 227.8 661.5 228.1 661.2 228.3 661.9 228.6 661.6 228.8 661.8 229.1 662.2 229.3 661.7 229.6 661.4 229.8 661.8 230.1 662.1 230.3 661.6 230.6 661.6 230.8 661.6 231.1 662 231.3 661.5 231.6 661.5 231.8 662.3 232.1 660.8 232.3 662.1 232.6 663.4 232.8 662.4 233.1 662.7 233.3 662.9 233.6 662.3 233.8 663.2 234.1 663 234.3 662.5 234.6 663 234.8 662.7 235.1 662 235.3 662.8 235.6 662.1 235.8 662.1 236.1 662.4 236.3 661.7 236.6 662.3 236.8 662.3 237.1 661.6 237.3 661.5 237.6 660.8 237.8 661.7 238.1 660.9 238.3 661.5 238.6 660.7 238.8 660.7 239.1 660.6 239.3 661 239.6 660.3 239.8 659.9 240.1 660.3 240.3 660.4 240.6 659.8 240.8 660.3 241.1 659.7 241.3 659 241.6 659.8 241.8 658.9 242.1 658.7 242.3 658.6 242.6 659.2 242.8 658.7 243.1 659 243.3 658.7 243.6 659.7 243.8 659 244.1 658.3 244.3 658.7 244.6 657.6 244.8 657.5 245.1 657.9 245.3 657.7 245.6 657.4 245.8 656.3 246.1 657.1 246.3 657.2 246.6 656.6 246.8 656.9 247.1 656.6 247.3 657.1 247.6 656.8 247.8 656.8 248.1 655.9 248.3 655.4 248.6 655.2 248.8 655.7 249.1 655.3 249.3 654.4 249.6 655.1 249.8 653.6 250.1 653.8 250.3 653.3 250.6 653.1 250.8 652.7 251.1 652.4 251.3 650.6 251.6 650.8 251.8 651.2 252.1 650.3 252.3 649.6 252.6 648.3 252.8 647 253.1 647.5 253.3 645.6 253.6 645.3 253.8 645.2 254.1 648.4 254.3 647.1 254.6 649.6 254.8 649.2 255.1 651.1 255.3 650.8 255.6 651.6 255.8 652 256.1 651.6 256.4 653.7 256.6 654.1 256.9 654.6 257.1 654.9 257.4 654 257.6 653.7 257.9 652.3 258.1 652.7 258.4 652.2 258.6 651.1 258.9 650.4 259.1 650.2 259.4 650.6 259.6 650.4 259.9 650.8 260.1 649.7 260.4 650.2 260.6 650.7 260.9 650.6 261.1 649.4 261.4 649.9 261.6 649.3 261.9 649.4 262.1 649.3 262.4 649.8 262.6 649.8 262.9 651.1 263.1 650.6 263.4 651.1 263.6 650.5 263.9 649.9 264.1 650.9 264.4 649.5 264.6 651.1 264.9 650.7 265.1 648.5 265.4 650.8 265.6 650.1 265.9 649.6 266.1 648.8 266.4 649.2 266.6 648.9 266.9 648.8 267.1 648.1 267.4 648.4 267.6 647.3 267.9 647.9 268.1 648.5 268.4 648.9 268.6 648.2 268.9 648.8 269.1 647.2 269.4 649.2 269.6 649.5 269.9 649.1 270.1 649.8 270.4 648.7 270.6 649 270.9 649.1 271.1 647.9 271.4 648.2 271.6 647.8 271.9 647.7 272.1 647.2 272.4 648.2 272.6 647 272.9 647.9 273.1 646.6 273.4 647.8 273.6 646.3 273.9 645 274.1 647.3 274.4 646.7 274.6 645.9 274.9 646 275.1 645.8 275.4 648.5 275.6 645.7 275.9 647 276.1 645.4 276.4 646.4 276.6 646.5 276.9 645.4 277.1 646.6 277.4 646 277.6 647.3 277.9 646.1 278.1 647.6 278.4 646.4 278.6 646.8 278.9 647.4 279.1 647.4 279.4 646.9 279.6 647.4 279.9 647 280.1 647.3 280.4 647.2 280.6 648.8 280.9 648.5 281.1 648.2 281.4 647.7 281.6 647.3 281.9 647.1 282.1 647.7 282.4 647.2 282.6 646.9 282.9 646.7 283.1 647 283.4 646.9 283.6 648 283.9 646.7 284.1 647.1 284.4 647.1 284.6 647 284.9 647.4 285.1 648.2 285.4 647.3 285.6 648.2 285.9 650.5 286.1 649 286.4 649.1 286.6 648.7 286.9 650 287.1 649.6 287.4 649 287.6 649.8 287.9 649.3 288.1 648.3 288.4 648.5 288.6 647.3 288.9 646.9 289.1 646.2 289.4 646.8 289.6 646.7 289.9 644.7 290.1 644.4 290.4 645.1 290.6 644.5 290.9 645.4 291.1 644 291.4 645.4 291.6 643.9 291.9 645 292.1 645 292.4 644.6 292.6 643.5 292.9 643.5 293.1 643.4 293.4 643.9 293.6 643.1 293.9 643.8 294.1 643.1 294.4 643.2 294.6 641.5 294.9 643.8 295.1 640.6 295.4 640.4 295.6 640.2 295.9 638.6 296.1 640 296.4 640.6 296.6 639.6 296.9 639.6 297.1 638.5 297.4 638 297.6 638 297.9 638.2 298.1 637.3 298.4 636.8 298.6 638 298.9 636.6 299.1 638 299.4 637.2 299.6 636.8 299.9 635.3 300.1 632.4 300.4 632.4 300.6 629.7 300.9 631 301.1 630.6 301.4 634.3 301.6 635.3 301.9 636.7 302.1 636.9 302.4 636.3 302.6 637.7 302.9 636.8 303.1 638.1 303.4 637.8 303.6 638.6 303.9 638.8 304.1 638.5 304.4 638.6 304.6 638.7 304.9 639.4 305.1 639.2 305.4 638.7 305.6 639.9 305.9 639.4 306.1 639.1 306.4 640 306.6 640.1 306.9 640 307.1 638.7 307.4 639.2 307.6 639.5 307.9 638.7 308.1 637.7 308.4 637.8 308.6 637.5 308.9 637.5 309.1 637.1 309.4 636.1 309.6 635.8 309.9 635.8 310.1 636.9 310.4 638.2 310.6 640.5 310.9 640.9 311.1 643 311.4 643 311.6 644.6 311.9 645.2 312.1 646.2 312.4 648.1 312.6 649.7 312.9 649.4 313.1 649.7 313.4 650 313.6 649.8 313.9 649.9 314.1 649.5 314.4 649.6 314.6 649.5 314.9 650.6 315.1 652.3 315.4 654 315.6 653.1 315.9 653.6 316.1 654.6 316.4 655.9 316.6 656.3 316.9 655.9 317.1 655.2 317.4 657 317.6 656.3 317.9 657.5 318.1 657.1 318.4 657.2 318.6 657.8 318.9 657.4 319.1 657.1 319.4 655.7 319.6 655.3 319.9 655.5 320.1 655 320.4 655.4 320.6 654 320.9 654.2 321.1 654.4 321.4 653.7 321.6 653.4 321.9 652.9 322.1 651.2 322.4 653.1 322.6 652.7 322.9 652.7 323.1 653 323.4 652.7 323.6 652.4 323.9 651.9 324.1 651.1 324.4 650.5 324.6 650.8 324.9 648.8 325.1 649.2 325.4 648 325.6 647.1 325.9 647.6 326.1 647.5 326.4 646.8 326.6 647.7 326.9 647.4 327.1 648.7 327.4 648.9 327.6 649.1 327.9 648.9 328.1 650.1 328.4 650.1 328.6 649.6 328.9 649.4 329.1 649.6 329.4 648.5 329.6 649.8 329.9 648.4 330.1 647.9 330.4 648 330.6 647.6 330.9 647.6 331.1 646.9 331.4 645.7 331.6 646.6 331.9 646 332.1 646.4 332.4 648.4 332.6 647 332.9 646 333.1 645.7 333.4 645.4 333.6 645.4 333.9 646.3 334.1 644.8 334.4 644.9 334.6 645.3 334.9 645.3 335.1 645.5 335.4 644.3 335.6 644.3 335.9 644.5 336.1 643.7 336.4 645.3 336.6 644.2 336.9 644.7 337.1 644.1 337.4 643.4 337.6 643.1 337.9 642.4 338.1 641.5 338.4 639.8 338.6 641.2 338.9 640.1 339.1 639.9 339.4 638.4 339.6 638.4 339.9 637.6 340.1 637.5 340.4 637.9 340.6 637.7 340.9 639.8 341.1 639.8 341.4 636.5 341.6 636.2 341.9 637.5 342.1 637.4 342.4 637.5 342.6 635.9 342.9 636 343.1 636.6 343.4 638.4 343.6 635.9 343.9 635.2 344.1 635.1 344.4 635.5 344.6 635.7 344.9 634.7 345.1 634.5 345.4 636.1 345.6 635.8 345.9 635 346.1 634.9 346.4 636.4 346.6 636.7 346.9 638.7 347.1 636.5 347.4 637.1 347.6 637.5 347.9 638.7 348.1 639 348.4 640 348.6 639.5 348.9 638.7 349.1 636.8 349.4 639 349.6 637.1 349.9 637.2 350.1 636.4 350.4 636.7 350.6 636.8 350.9 635.6 351.1 636.9 351.4 635.9 351.6 636.6 351.9 635.9 352.1 635.5 352.4 635.9 352.6 635.5 352.9 635.6 353.1 635.5 353.4 635 353.6 635.6 353.9 636.3 354.1 634.8 354.4 637.7 354.6 636.3 354.9 634.8 355.1 635.3 355.4 634.5 355.6 636 355.9 635.4 356.1 633.5 356.4 636.1 356.6 633.1 356.9 633 357.1 632.9 357.4 632.8 357.6 634.8 357.9 634.5 358.1 635.5 358.4 636 358.6 634.8 358.9 635 359.1 635.8 359.4 635.9 359.6 636.4 359.9 636.4 360.1 635.7 360.4 636.5 360.6 636.1 360.9 635.8 361.1 635.9 361.4 635.8 361.6 635.5 361.9 636.5 362.1 635.6 362.4 635.4 362.6 635 362.9 635.1 363.1 634.1 363.4 636 363.6 633.8 363.9 632.6 364.1 631.2 364.4 630 364.6 629.8 364.9 629.9 365.1 627.1 365.4 627.1 365.6 626.7 365.9 624.2 366.1 623 366.4 622.6 366.6 620.3 366.9 620.1 367.1 619.4 367.4 617.4 367.6 615.4 367.9 615.7 368.1 613.6 368.4 610.5 368.6 612.2 368.9 610.7 369.1 609.2 369.4 610.8 369.6 609.8 369.9 610.6 370.1 608 370.4 609.5 370.6 607.8 370.9 606.5 371.1 605.7 371.4 605.7 371.6 608 371.9 610.5 372.1 607.8 372.4 605.4 372.6 606 372.9 609.4 373.1 609.5 373.4 610.3 373.6 612.6 373.9 612.8 374.1 613 374.4 611.3 374.6 608.9 374.9 605.2 375.1 604.2 375.4 601.9 375.6 599.5 375.9 600.1 376.1 596.9 376.4 597.8 376.6 594.1 376.9 590.5 377.1 594.2 377.4 593.2 377.6 590.2 377.9 586.3 378.1 585.3 378.4 582 378.6 580.6 378.9 577.6 379.1 572.6 379.4 567.6 379.6 565.3 379.9 564.6 380.1 563.8 380.4 565.7 380.6 575.2 380.9 580.9 381.1 585.7 381.4 585.2 381.6 590.2 381.9 593 382.1 593 382.4 591.1 382.6 589.8 382.9 591.4 383.1 589.1 383.4 589.4 383.6 590.5 383.9 591 384.1 591.1 384.4 595.1 384.6 594 384.9 588.4 385.1 585.5 385.4 585.1 385.6 583.9 385.9 583.8 386.1 582.9 386.4 582.6 386.6 581.1 386.9 580.1 387.1 577.4 387.4 578 387.6 573.8 387.9 578.9 388.1 574.5 388.4 571.6 388.6 577.2 388.9 575.3 389.1 575.7 389.4 579 389.6 578.4 389.9 581.2 390.1 582.3 390.4 581.2 390.6 592 390.9 599.1 391.1 608.6 391.4 604.1 391.6 603.1 391.9 600.3 392.1 599.4 392.4 601.3 392.6 595 392.9 594 393.1 597.1 393.4 596.9 393.6 596.2 393.9 596.2 394.1 598.4 394.4 597.2 394.6 597 394.9 602.9 395.1 601.6 395.4 603.1 395.6 606 395.9 603.8 396.1 602.7 396.4 603.2 396.6 604 396.9 604.7 397.1 610.2 397.4 610.9 397.6 613.5 397.9 608.5 398.1 604.2 398.4 605.2 398.6 603 398.9 599.7 399.1 600.5 399.4 599.3 399.6 599.7 399.9 600.2 400.1 597.3 400.4 597 400.6 594.4 400.9 593.4 401.1 594.7 401.4 592.9 401.6 593.1 401.9 590.4 402.1 593.1 402.4 593 402.6 596.9 402.9 599 403.1 601.8 403.4 598.5 403.6 600.9 403.9 600.8 404.1 601 404.4 600.9 404.6 603.2 404.9 601.1 405.1 602.7 405.4 603.8 405.6 605.5 405.9 606 406.1 604.1 406.4 606.1 406.6 607 406.9 606.4 407.1 608.3 407.4 609.3 407.6 608 407.9 610.8 408.1 607.2 408.4 610.4 408.6 610.9 408.9 612.3 409.1 611.8 409.4 610.1 409.6 612.3 409.9 614.1 410.1 614.2 410.4 612.1 410.6 614.7 410.9 612.9 411.1 613.1 411.4 614.1 411.6 613.7 411.9 612.6 412.1 614 412.4 610.8 412.6 609 412.9 610 413.1 607.6 413.4 607.9 413.6 604.4 413.9 603.9 414.1 601.2 414.4 599 414.6 597.7 414.9 596.9 415.1 594.9 415.4 597.7 415.6 596.4 415.9 597.6 416.1 597.5 416.4 596.8 416.6 595.4 416.9 595.9 417.1 596.2 417.4 596.6 417.6 598.9 417.9 597.6 418.1 600.4 418.4 599.6 418.6 600 418.9 598.9 419.1 600 419.4 598.9 419.6 598.4 419.9 597.9 420.1 599.3 420.4 598.1 420.6 598.5 420.9 597.7 421.1 600 421.4 600 421.6 603.5 421.9 601.2 422.1 602.7 422.4 601.4 422.6 601 422.9 601 423.1 602.4 423.4 604.1 423.6 603.2 423.9 601.6 424.1 604.3 424.4 603.8 424.6 602.6 424.9 603.6 425.1 603.1 425.4 605.2 425.6 605.4 425.9 604.6 426.1 606.2 426.4 606.7 426.6 608.4 426.9 607.1 427.1 609.3 427.4 611.1 427.6 607.7 427.9 611.4 428.1 610.9 428.4 613.8 428.6 611.8 428.9 617.4 429.1 615.4 429.4 617.4 429.6 619.7 429.9 622.3 430.1 623.6 430.4 622.5 430.6 622.4 430.9 622.6 431.1 622.9 431.4 624.8 431.6 624 431.9 624.7 432.1 624 432.4 623.7 432.6 624.2 432.9 627 433.1 626.3 433.4 628 433.6 627 433.9 627.3 434.1 627.3 434.4 628.8 434.6 629 434.9 631.8 435.1 632.9 435.4 633.6 435.6 633.9 435.9 634.4 436.1 633.7 436.4 633 436.6 632.9 436.9 631.5 437.1 630.7 437.4 627.9 437.6 628.1 437.9 628.4 438.1 627 438.4 624.3 438.6 623.7 438.9 624.1 439.1 624.2 439.4 621.5 439.6 622.6 439.9 624.5 440.1 623.7 440.4 625.5 440.6 624.3 440.9 625.1 441.1 627 441.4 625.9 441.6 627.4 441.9 626.5 442.1 625.8 442.4 627.6 442.6 627.5 442.9 627.5 443.1 628.1 443.4 626.9 443.6 628 443.9 628.1 444.1 627.7 444.4 627.4 444.6 626.1 444.9 625.6 445.1 625.6 445.4 626.8 445.6 628.4 445.9 626.9 446.1 627.3 446.4 629.5 446.6 628.7 446.9 628.8 447.1 630.8 447.4 631.3 447.6 632 447.9 631.4 448.1 630 448.4 631.9 448.6 631.7 448.9 632.4 449.1 631.7 449.4 632.8 449.6 632.4 449.9 630.6 450.1 633 450.4 632.4 450.6 631.2 450.9 630.5 451.1 631.5 451.4 630.2 451.6 629.8 451.9 630.5 452.1 629.4 452.4 628.6 452.6 628.8 452.9 627.3 453.1 627.6 453.4 628.3 453.6 628 453.9 628.1 454.1 629.3 454.4 630.4 454.6 631.5 454.9 630.3 455.1 631.9 455.4 632.9 455.6 633.2 455.9 633.2 456.1 633 456.4 631 456.6 631.8 456.9 631.3 457.1 630.7 457.4 630.6 457.6 631.9 457.9 631.5 458.1 629.9 458.4 629.8 458.6 629.5 458.9 630.1 459.1 629.2 459.4 628.8 459.6 628.2 459.9 629 460.1 629.2 460.4 628.5 460.6 628.2 460.9 625.5 461.1 627.3 461.4 626.8 461.6 626.8 461.9 628.4 462.1 626.6 462.4 626.4 462.6 628.3 462.9 628.6 463.1 628.5 463.4 629.9 463.6 630.6 463.9 627.2 464.1 629.6 464.4 631 464.6 632 464.9 631.1 465.1 632 465.4 632.4 465.6 633.6 465.9 633.6 466.1 634.7 466.4 635 466.6 635.5 466.9 636.2 467.1 635.8 467.4 637.1 467.6 637.7 467.9 638.8 468.1 638.9 468.4 638.2 468.6 639.2 468.9 639.9 469.1 640.4 469.4 638.9 469.6 640.6 469.9 640.8 470.1 640.6 470.4 640.6 470.6 641.6 470.9 639.8 471.1 641 471.4 640.4 471.6 640.3 471.9 639.3 472.1 638.5 472.4 637.9 472.6 637.5 472.9 636.8 473.1 640.1 473.4 637.8 473.6 639.2 473.9 638.4 474.1 638.9 474.4 638.7 474.6 638.7 474.9 638.9 475.1 640.8 475.4 640.1 475.6 639.6 475.9 641 476.1 639.9 476.4 639.5 476.6 639.2 476.9 639.2 477.1 640.5 477.4 639.3 477.6 638.8 477.9 639.1 478.1 638.9 478.4 640.3 478.6 639.3 478.9 639.3 479.1 640 479.4 639.9 479.6 640.4 479.9 641.6 480.1 641.1 480.4 642 480.6 641 480.9 641.5 481.1 641.5 481.4 640.5 481.6 638.5 481.9 640.3 482.1 640.9 482.4 640.7 482.6 638.8 482.9 638.8 483.1 639.3 483.4 637.9 483.6 639.8 483.9 639.3 484.1 641.5 484.4 639.3 484.6 639.3 484.9 640.7 485.1 640.9 485.4 641.2 485.6 641.4 485.9 641.6 486.1 640.8 486.4 640.9 486.6 642.3 486.9 642.9 487.1 641.9 487.4 643 487.6 643.1 487.9 642.8 488.1 644.3 488.4 643.5 488.6 643.6 488.9 643.7 489.1 642.9 489.4 642.4 489.6 643 489.9 642.5 490.1 642.6 490.4 642.1 490.6 641.6 490.9 642.3 491.1 642.1 491.4 641.7 491.6 641.8 491.9 643.8 492.1 644 492.4 642.5 492.6 644.1 492.9 643.9 493.1 644 493.4 643.6 493.6 644.1 493.9 646 494.1 644.7 494.4 644 494.6 643 494.9 644.3 495.1 644.2 495.4 642.6 495.6 643.9 495.9 642.5 496.1 642.3 496.4 642.3 496.6 643.7 496.9 643.7 497.1 644.1 497.4 643.6 497.6 644.4 497.9 644.5 498.1 642.8 498.4 644.4 498.6 644.6 498.9 646.1 499.1 646 499.4 645.8 499.6 646.4 499.9 645.7 500.1 646.4 500.4 645.7 500.6 646.2 500.9 645.7 501.1 646.2 501.4 646.7 501.6 645.5 501.9 644.1 502.1 646.3 502.4 645.6 502.6 644.5 502.9 645.2 503.1 644.5 503.4 644.1 503.6 644.4 503.9 644.1 504.1 643.2 504.4 644 504.6 642.7 504.9 642.8 505.1 643.3 505.4 642.3 505.6 642.8 505.9 642.4 506.1 641.5 506.4 641.3 506.6 642.2 506.9 640.7 507.1 641.3 507.4 640.5 507.6 640.4 507.9 640.1 508.1 637.5 508.4 639.7 508.6 639.4 508.9 637.4 509.1 638.3 509.4 638 509.6 634.7 509.9 636.4 510.1 639 510.4 638.1 510.6 634.8 510.9 636.2 511.1 635.7 511.4 635.4 511.6 633.8 511.9 636.6 512.1 633.6 512.4 632.1 512.6 631.7 512.9 632 513.1 630.8 513.4 630.6 513.6 631.4 513.9 631.5 514.1 630.1 514.4 630.9 514.6 630.9 514.9 631.5 515.1 631.7 515.4 632.5 515.6 631.3 515.9 633.8 516.1 632.8 516.4 632.9 516.6 634.4 516.9 635.8 517.1 635.7 517.4 635 517.6 634.5 517.9 637.4 518.1 636.4 518.4 638.2 518.6 636.7 518.9 638.9 519.1 638 519.4 638.5 519.6 635.5 519.9 637.8 520.1 638.5 520.4 637.2 520.6 638.1 520.9 637.8 521.1 637.8 521.4 639 521.6 637.4 521.9 636.8 522.1 638.4 522.4 638.9 522.6 638.2 522.9 637.3 523.1 639.3 523.4 638.8 523.6 641.7 523.9 641 524.1 640.6 524.4 640.5 524.6 639.6 524.9 637.5 525.1 638.4 525.4 638 525.6 639.2 525.9 637.7 526.1 637.6 526.4 637.2 526.6 637.8 526.9 637.1 527.1 636.8 527.4 635.2 527.6 636.8 527.9 637.2 528.1 635.7 528.4 636.3 528.6 636.4 528.9 636.7 529.1 637 529.4 637.1 529.6 634.3 529.9 635.9 530.1 636.8 530.4 637.4 530.6 636.9 530.9 638.3 531.1 637.4 531.4 638.5 531.6 638.3 531.9 637.4 532.1 638.3 532.4 638.2 532.6 637 532.9 636.7 533.1 637 533.4 636.9 533.6 637.1 533.9 636.3 534.1 635.8 534.4 635.4 534.6 637.3 534.9 637.8 535.1 637.6 535.4 637.3 535.6 636.7 535.9 637.5 536.1 638.6 536.4 639.4 536.6 639.3 536.9 639.8 537.1 640 537.4 639.6 537.6 638.4 537.9 639.2 538.1 638.2 538.4 639.2 538.6 638.7 538.9 637.7 539.1 637 539.4 637.9 539.6 638.1 539.9 637 540.1 636.9 540.4 637.7 540.6 636.3 540.9 636.3 541.1 636.3 541.4 637.9 541.6 636.4 541.9 637.8 542.1 637.3 542.4 636.2 542.6 637.8 542.9 637.2 543.1 637.9 543.4 638.4 543.6 638.8" stroke="#000" stroke-width="1.6" fill="none" stroke-linejoin="round"/>
<ellipse cx="181.55" cy="177.05" rx="20.90" ry="20.40" fill="none" stroke="#4343a0" stroke-width="1.8"/>
<ellipse cx="316.4" cy="155.1" rx="20.60" ry="20.30" fill="none" stroke="#4343a0" stroke-width="1.8"/>
<ellipse cx="488.5" cy="133.0" rx="20.70" ry="20.30" fill="none" stroke="#4343a0" stroke-width="1.8"/>
<ellipse cx="536.4" cy="130.3" rx="20.60" ry="20.30" fill="none" stroke="#4343a0" stroke-width="1.8"/>
<ellipse cx="180.3" cy="507.9" rx="20.70" ry="20.50" fill="none" stroke="#4343a0" stroke-width="1.8"/>
<ellipse cx="315.2" cy="519.2" rx="20.70" ry="20.30" fill="none" stroke="#4343a0" stroke-width="1.8"/>
<ellipse cx="489.4" cy="518.0" rx="20.80" ry="20.60" fill="none" stroke="#4343a0" stroke-width="1.8"/>
<ellipse cx="537.4" cy="515.2" rx="20.60" ry="20.20" fill="none" stroke="#4343a0" stroke-width="1.8"/>
<ellipse cx="179.9" cy="658.2" rx="20.60" ry="20.10" fill="none" stroke="#4343a0" stroke-width="1.8"/>
<ellipse cx="315.7" cy="653.3" rx="20.70" ry="20.50" fill="none" stroke="#4343a0" stroke-width="1.8"/>
<ellipse cx="489.4" cy="640.3" rx="20.60" ry="20.40" fill="none" stroke="#4343a0" stroke-width="1.8"/>
<ellipse cx="537.4" cy="637.0" rx="20.60" ry="20.20" fill="none" stroke="#4343a0" stroke-width="1.8"/>
<text x="604.12" y="94.6" font-family="Liberation Sans, sans-serif" font-size="9.4" stroke="#000" stroke-width="0.3" textLength="22.48" lengthAdjust="spacingAndGlyphs">1750</text>
<text x="604.12" y="110.6" font-family="Liberation Sans, sans-serif" font-size="9.4" stroke="#000" stroke-width="0.3" textLength="22.48" lengthAdjust="spacingAndGlyphs">1500</text>
<text x="604.12" y="127.6" font-family="Liberation Sans, sans-serif" font-size="9.4" stroke="#000" stroke-width="0.3" textLength="22.48" lengthAdjust="spacingAndGlyphs">1250</text>
<text x="604.12" y="143.6" font-family="Liberation Sans, sans-serif" font-size="9.4" stroke="#000" stroke-width="0.3" textLength="22.48" lengthAdjust="spacingAndGlyphs">1000</text>
<text x="609.74" y="160.6" font-family="Liberation Sans, sans-serif" font-size="9.4" stroke="#000" stroke-width="0.3" textLength="16.86" lengthAdjust="spacingAndGlyphs">750</text>
<text x="609.74" y="176.6" font-family="Liberation Sans, sans-serif" font-size="9.4" stroke="#000" stroke-width="0.3" textLength="16.86" lengthAdjust="spacingAndGlyphs">500</text>
<text x="609.74" y="191.6" font-family="Liberation Sans, sans-serif" font-size="9.4" stroke="#000" stroke-width="0.3" textLength="16.86" lengthAdjust="spacingAndGlyphs">250</text>
<text x="602.4" y="206.6" font-family="Liberation Sans, sans-serif" font-size="9.4" stroke="#000" stroke-width="0.3" textLength="26.9" lengthAdjust="spacingAndGlyphs">0.033</text>
<text x="602.4" y="221.6" font-family="Liberation Sans, sans-serif" font-size="9.4" stroke="#000" stroke-width="0.3" textLength="26.9" lengthAdjust="spacingAndGlyphs">0.032</text>
<text x="602.4" y="235.6" font-family="Liberation Sans, sans-serif" font-size="9.4" stroke="#000" stroke-width="0.3" textLength="26.9" lengthAdjust="spacingAndGlyphs">0.031</text>
<text x="602.4" y="251.6" font-family="Liberation Sans, sans-serif" font-size="9.4" stroke="#000" stroke-width="0.3" textLength="26.9" lengthAdjust="spacingAndGlyphs">0.030</text>
<text x="602.4" y="266.6" font-family="Liberation Sans, sans-serif" font-size="9.4" stroke="#000" stroke-width="0.3" textLength="26.9" lengthAdjust="spacingAndGlyphs">0.029</text>
<text x="602.4" y="281.6" font-family="Liberation Sans, sans-serif" font-size="9.4" stroke="#000" stroke-width="0.3" textLength="26.9" lengthAdjust="spacingAndGlyphs">0.028</text>
<text x="602.4" y="296.6" font-family="Liberation Sans, sans-serif" font-size="9.4" stroke="#000" stroke-width="0.3" textLength="26.9" lengthAdjust="spacingAndGlyphs">0.027</text>
<text x="602.4" y="311.6" font-family="Liberation Sans, sans-serif" font-size="9.4" stroke="#000" stroke-width="0.3" textLength="26.9" lengthAdjust="spacingAndGlyphs">0.026</text>
<text x="602.4" y="326.6" font-family="Liberation Sans, sans-serif" font-size="9.4" stroke="#000" stroke-width="0.3" textLength="26.9" lengthAdjust="spacingAndGlyphs">0.025</text>
<text x="602.4" y="340.6" font-family="Liberation Sans, sans-serif" font-size="9.4" stroke="#000" stroke-width="0.3" textLength="26.9" lengthAdjust="spacingAndGlyphs">0.024</text>
<text x="602.4" y="355.6" font-family="Liberation Sans, sans-serif" font-size="9.4" stroke="#000" stroke-width="0.3" textLength="26.9" lengthAdjust="spacingAndGlyphs">0.023</text>
<text x="602.4" y="370.6" font-family="Liberation Sans, sans-serif" font-size="9.4" stroke="#000" stroke-width="0.3" textLength="26.9" lengthAdjust="spacingAndGlyphs">0.022</text>
<text x="602.4" y="386.6" font-family="Liberation Sans, sans-serif" font-size="9.4" stroke="#000" stroke-width="0.3" textLength="26.9" lengthAdjust="spacingAndGlyphs">0.021</text>
<text x="602.4" y="401.6" font-family="Liberation Sans, sans-serif" font-size="9.4" stroke="#000" stroke-width="0.3" textLength="26.9" lengthAdjust="spacingAndGlyphs">0.020</text>
<text x="602.4" y="416.6" font-family="Liberation Sans, sans-serif" font-size="9.4" stroke="#000" stroke-width="0.3" textLength="26.9" lengthAdjust="spacingAndGlyphs">0.019</text>
<text x="602.4" y="431.6" font-family="Liberation Sans, sans-serif" font-size="9.4" stroke="#000" stroke-width="0.3" textLength="26.9" lengthAdjust="spacingAndGlyphs">0.018</text>
<text x="602.4" y="445.6" font-family="Liberation Sans, sans-serif" font-size="9.4" stroke="#000" stroke-width="0.3" textLength="26.9" lengthAdjust="spacingAndGlyphs">0.017</text>
<text x="602.4" y="460.6" font-family="Liberation Sans, sans-serif" font-size="9.4" stroke="#000" stroke-width="0.3" textLength="26.9" lengthAdjust="spacingAndGlyphs">0.016</text>
<text x="602.4" y="475.6" font-family="Liberation Sans, sans-serif" font-size="9.4" stroke="#000" stroke-width="0.3" textLength="26.9" lengthAdjust="spacingAndGlyphs">0.015</text>
<text x="602.4" y="490.6" font-family="Liberation Sans, sans-serif" font-size="9.4" stroke="#000" stroke-width="0.3" textLength="26.9" lengthAdjust="spacingAndGlyphs">0.014</text>
<text x="602.4" y="506.6" font-family="Liberation Sans, sans-serif" font-size="9.4" stroke="#000" stroke-width="0.3" textLength="26.9" lengthAdjust="spacingAndGlyphs">0.013</text>
<text x="602.4" y="521.6" font-family="Liberation Sans, sans-serif" font-size="9.4" stroke="#000" stroke-width="0.3" textLength="26.9" lengthAdjust="spacingAndGlyphs">0.012</text>
<text x="602.4" y="536.6" font-family="Liberation Sans, sans-serif" font-size="9.4" stroke="#000" stroke-width="0.3" textLength="26.9" lengthAdjust="spacingAndGlyphs">0.011</text>
<text x="603.34" y="561.6" font-family="Liberation Sans, sans-serif" font-size="9.4" stroke="#000" stroke-width="0.3" textLength="11.46" lengthAdjust="spacingAndGlyphs">50</text>
<text x="603.34" y="573.6" font-family="Liberation Sans, sans-serif" font-size="9.4" stroke="#000" stroke-width="0.3" textLength="11.46" lengthAdjust="spacingAndGlyphs">45</text>
<text x="603.34" y="585.6" font-family="Liberation Sans, sans-serif" font-size="9.4" stroke="#000" stroke-width="0.3" textLength="11.46" lengthAdjust="spacingAndGlyphs">40</text>
<text x="603.34" y="597.6" font-family="Liberation Sans, sans-serif" font-size="9.4" stroke="#000" stroke-width="0.3" textLength="11.46" lengthAdjust="spacingAndGlyphs">35</text>
<text x="603.34" y="609.6" font-family="Liberation Sans, sans-serif" font-size="9.4" stroke="#000" stroke-width="0.3" textLength="11.46" lengthAdjust="spacingAndGlyphs">30</text>
<text x="603.34" y="621.6" font-family="Liberation Sans, sans-serif" font-size="9.4" stroke="#000" stroke-width="0.3" textLength="11.46" lengthAdjust="spacingAndGlyphs">25</text>
<text x="603.34" y="633.6" font-family="Liberation Sans, sans-serif" font-size="9.4" stroke="#000" stroke-width="0.3" textLength="11.46" lengthAdjust="spacingAndGlyphs">20</text>
<text x="603.34" y="645.6" font-family="Liberation Sans, sans-serif" font-size="9.4" stroke="#000" stroke-width="0.3" textLength="11.46" lengthAdjust="spacingAndGlyphs">15</text>
<text x="603.34" y="657.6" font-family="Liberation Sans, sans-serif" font-size="9.4" stroke="#000" stroke-width="0.3" textLength="11.46" lengthAdjust="spacingAndGlyphs">10</text>
<text x="609.07" y="669.6" font-family="Liberation Sans, sans-serif" font-size="9.4" stroke="#000" stroke-width="0.3" textLength="5.73" lengthAdjust="spacingAndGlyphs">5</text>
<text x="37.2" y="552.2" font-family="Liberation Sans, sans-serif" font-size="9.4" stroke="#000" stroke-width="0.3" textLength="11.8" lengthAdjust="spacingAndGlyphs">98</text>
<text x="37.2" y="686.1" font-family="Liberation Sans, sans-serif" font-size="9.4" stroke="#000" stroke-width="0.3" textLength="11.8" lengthAdjust="spacingAndGlyphs">98</text>
<text x="62.2" y="552.2" font-family="Liberation Sans, sans-serif" font-size="9.4" stroke="#000" stroke-width="0.3" textLength="11.8" lengthAdjust="spacingAndGlyphs">99</text>
<text x="62.2" y="686.1" font-family="Liberation Sans, sans-serif" font-size="9.4" stroke="#000" stroke-width="0.3" textLength="11.8" lengthAdjust="spacingAndGlyphs">99</text>
<text x="88.2" y="552.2" font-family="Liberation Sans, sans-serif" font-size="9.4" stroke="#000" stroke-width="0.3" textLength="11.8" lengthAdjust="spacingAndGlyphs">00</text>
<text x="88.2" y="686.1" font-family="Liberation Sans, sans-serif" font-size="9.4" stroke="#000" stroke-width="0.3" textLength="11.8" lengthAdjust="spacingAndGlyphs">00</text>
<text x="113.2" y="552.2" font-family="Liberation Sans, sans-serif" font-size="9.4" stroke="#000" stroke-width="0.3" textLength="11.8" lengthAdjust="spacingAndGlyphs">01</text>
<text x="113.2" y="686.1" font-family="Liberation Sans, sans-serif" font-size="9.4" stroke="#000" stroke-width="0.3" textLength="11.8" lengthAdjust="spacingAndGlyphs">01</text>
<text x="138.2" y="552.2" font-family="Liberation Sans, sans-serif" font-size="9.4" stroke="#000" stroke-width="0.3" textLength="11.8" lengthAdjust="spacingAndGlyphs">02</text>
<text x="138.2" y="686.1" font-family="Liberation Sans, sans-serif" font-size="9.4" stroke="#000" stroke-width="0.3" textLength="11.8" lengthAdjust="spacingAndGlyphs">02</text>
<text x="163.2" y="552.2" font-family="Liberation Sans, sans-serif" font-size="9.4" stroke="#000" stroke-width="0.3" textLength="11.8" lengthAdjust="spacingAndGlyphs">03</text>
<text x="163.2" y="686.1" font-family="Liberation Sans, sans-serif" font-size="9.4" stroke="#000" stroke-width="0.3" textLength="11.8" lengthAdjust="spacingAndGlyphs">03</text>
<text x="188.2" y="552.2" font-family="Liberation Sans, sans-serif" font-size="9.4" stroke="#000" stroke-width="0.3" textLength="11.8" lengthAdjust="spacingAndGlyphs">04</text>
<text x="188.2" y="686.1" font-family="Liberation Sans, sans-serif" font-size="9.4" stroke="#000" stroke-width="0.3" textLength="11.8" lengthAdjust="spacingAndGlyphs">04</text>
<text x="214.2" y="552.2" font-family="Liberation Sans, sans-serif" font-size="9.4" stroke="#000" stroke-width="0.3" textLength="11.8" lengthAdjust="spacingAndGlyphs">05</text>
<text x="214.2" y="686.1" font-family="Liberation Sans, sans-serif" font-size="9.4" stroke="#000" stroke-width="0.3" textLength="11.8" lengthAdjust="spacingAndGlyphs">05</text>
<text x="239.2" y="552.2" font-family="Liberation Sans, sans-serif" font-size="9.4" stroke="#000" stroke-width="0.3" textLength="11.8" lengthAdjust="spacingAndGlyphs">06</text>
<text x="239.2" y="686.1" font-family="Liberation Sans, sans-serif" font-size="9.4" stroke="#000" stroke-width="0.3" textLength="11.8" lengthAdjust="spacingAndGlyphs">06</text>
<text x="264.2" y="552.2" font-family="Liberation Sans, sans-serif" font-size="9.4" stroke="#000" stroke-width="0.3" textLength="11.8" lengthAdjust="spacingAndGlyphs">07</text>
<text x="264.2" y="686.1" font-family="Liberation Sans, sans-serif" font-size="9.4" stroke="#000" stroke-width="0.3" textLength="11.8" lengthAdjust="spacingAndGlyphs">07</text>
<text x="290.2" y="552.2" font-family="Liberation Sans, sans-serif" font-size="9.4" stroke="#000" stroke-width="0.3" textLength="11.8" lengthAdjust="spacingAndGlyphs">08</text>
<text x="290.2" y="686.1" font-family="Liberation Sans, sans-serif" font-size="9.4" stroke="#000" stroke-width="0.3" textLength="11.8" lengthAdjust="spacingAndGlyphs">08</text>
<text x="316.2" y="552.2" font-family="Liberation Sans, sans-serif" font-size="9.4" stroke="#000" stroke-width="0.3" textLength="11.8" lengthAdjust="spacingAndGlyphs">09</text>
<text x="316.2" y="686.1" font-family="Liberation Sans, sans-serif" font-size="9.4" stroke="#000" stroke-width="0.3" textLength="11.8" lengthAdjust="spacingAndGlyphs">09</text>
<text x="341.2" y="552.2" font-family="Liberation Sans, sans-serif" font-size="9.4" stroke="#000" stroke-width="0.3" textLength="11.8" lengthAdjust="spacingAndGlyphs">10</text>
<text x="341.2" y="686.1" font-family="Liberation Sans, sans-serif" font-size="9.4" stroke="#000" stroke-width="0.3" textLength="11.8" lengthAdjust="spacingAndGlyphs">10</text>
<text x="366.2" y="552.2" font-family="Liberation Sans, sans-serif" font-size="9.4" stroke="#000" stroke-width="0.3" textLength="11.8" lengthAdjust="spacingAndGlyphs">11</text>
<text x="366.2" y="686.1" font-family="Liberation Sans, sans-serif" font-size="9.4" stroke="#000" stroke-width="0.3" textLength="11.8" lengthAdjust="spacingAndGlyphs">11</text>
<text x="391.2" y="552.2" font-family="Liberation Sans, sans-serif" font-size="9.4" stroke="#000" stroke-width="0.3" textLength="11.8" lengthAdjust="spacingAndGlyphs">12</text>
<text x="391.2" y="686.1" font-family="Liberation Sans, sans-serif" font-size="9.4" stroke="#000" stroke-width="0.3" textLength="11.8" lengthAdjust="spacingAndGlyphs">12</text>
<text x="416.2" y="552.2" font-family="Liberation Sans, sans-serif" font-size="9.4" stroke="#000" stroke-width="0.3" textLength="11.8" lengthAdjust="spacingAndGlyphs">13</text>
<text x="416.2" y="686.1" font-family="Liberation Sans, sans-serif" font-size="9.4" stroke="#000" stroke-width="0.3" textLength="11.8" lengthAdjust="spacingAndGlyphs">13</text>
<text x="443.2" y="552.2" font-family="Liberation Sans, sans-serif" font-size="9.4" stroke="#000" stroke-width="0.3" textLength="11.8" lengthAdjust="spacingAndGlyphs">14</text>
<text x="443.2" y="686.1" font-family="Liberation Sans, sans-serif" font-size="9.4" stroke="#000" stroke-width="0.3" textLength="11.8" lengthAdjust="spacingAndGlyphs">14</text>
<text x="468.2" y="552.2" font-family="Liberation Sans, sans-serif" font-size="9.4" stroke="#000" stroke-width="0.3" textLength="11.8" lengthAdjust="spacingAndGlyphs">15</text>
<text x="468.2" y="686.1" font-family="Liberation Sans, sans-serif" font-size="9.4" stroke="#000" stroke-width="0.3" textLength="11.8" lengthAdjust="spacingAndGlyphs">15</text>
<text x="493.2" y="552.2" font-family="Liberation Sans, sans-serif" font-size="9.4" stroke="#000" stroke-width="0.3" textLength="11.8" lengthAdjust="spacingAndGlyphs">16</text>
<text x="493.2" y="686.1" font-family="Liberation Sans, sans-serif" font-size="9.4" stroke="#000" stroke-width="0.3" textLength="11.8" lengthAdjust="spacingAndGlyphs">16</text>
<text x="519.2" y="552.2" font-family="Liberation Sans, sans-serif" font-size="9.4" stroke="#000" stroke-width="0.3" textLength="11.8" lengthAdjust="spacingAndGlyphs">17</text>
<text x="519.2" y="686.1" font-family="Liberation Sans, sans-serif" font-size="9.4" stroke="#000" stroke-width="0.3" textLength="11.8" lengthAdjust="spacingAndGlyphs">17</text>
<text x="544.2" y="552.2" font-family="Liberation Sans, sans-serif" font-size="9.4" stroke="#000" stroke-width="0.3" textLength="11.8" lengthAdjust="spacingAndGlyphs">18</text>
<text x="544.2" y="686.1" font-family="Liberation Sans, sans-serif" font-size="9.4" stroke="#000" stroke-width="0.3" textLength="11.8" lengthAdjust="spacingAndGlyphs">18</text>
<text x="571.2" y="552.2" font-family="Liberation Sans, sans-serif" font-size="9.4" stroke="#000" stroke-width="0.3" textLength="11.8" lengthAdjust="spacingAndGlyphs">19</text>
<text x="571.2" y="686.1" font-family="Liberation Sans, sans-serif" font-size="9.4" stroke="#000" stroke-width="0.3" textLength="11.8" lengthAdjust="spacingAndGlyphs">19</text>
<text x="39.7" y="27" font-family="Liberation Sans, sans-serif" font-size="18" font-weight="bold" fill="#8b4216" textLength="561" lengthAdjust="spacingAndGlyphs">Lows in this ratio have a clear correlation with lows for the sector</text>
<text x="37" y="60.4" font-family="Liberation Sans, sans-serif" font-size="13" font-weight="bold" textLength="102" lengthAdjust="spacingAndGlyphs">$SILVER:$GOLD</text>
<text x="143.5" y="59.8" font-family="Liberation Sans, sans-serif" font-size="10.6" textLength="118" lengthAdjust="spacingAndGlyphs">Silver (EOD)/Gold (EOD)</text>
<text x="265.6" y="60" font-family="DejaVu Sans, sans-serif" font-size="9.3" stroke="#000" stroke-width="0.15" textLength="21.6" lengthAdjust="spacingAndGlyphs">CME</text>
<text x="508.5" y="61.2" font-family="Liberation Sans, sans-serif" font-size="10" fill="#222" textLength="91" lengthAdjust="spacingAndGlyphs">©StockCharts.com</text>
<text x="36.8" y="73.2" font-family="DejaVu Sans, sans-serif" font-size="9" stroke="#000" stroke-width="0.2" textLength="53.5" lengthAdjust="spacingAndGlyphs">6-Oct-2017</text>
<text x="171" y="73.3" font-family="DejaVu Sans, sans-serif" font-size="10" font-weight="bold" textLength="29.5" lengthAdjust="spacingAndGlyphs">Open</text>
<text x="236.8" y="73.3" font-family="DejaVu Sans, sans-serif" font-size="10" font-weight="bold" textLength="23.6" lengthAdjust="spacingAndGlyphs">High</text>
<text x="296.5" y="73.3" font-family="DejaVu Sans, sans-serif" font-size="10" font-weight="bold" textLength="23.8" lengthAdjust="spacingAndGlyphs">Low</text>
<text x="357.8" y="73.3" font-family="DejaVu Sans, sans-serif" font-size="10" font-weight="bold" textLength="31.5" lengthAdjust="spacingAndGlyphs">Close</text>
<text x="426" y="73.3" font-family="DejaVu Sans, sans-serif" font-size="10" font-weight="bold" textLength="42.6" lengthAdjust="spacingAndGlyphs">Volume</text>
<text x="484.8" y="73.3" font-family="DejaVu Sans, sans-serif" font-size="10" font-weight="bold" textLength="22.1" lengthAdjust="spacingAndGlyphs">Chg</text>
<text x="203.3" y="73.3" font-family="DejaVu Sans, sans-serif" font-size="9" stroke="#000" stroke-width="0.2" textLength="27.3" lengthAdjust="spacingAndGlyphs">0.013</text>
<text x="263.2" y="73.3" font-family="DejaVu Sans, sans-serif" font-size="9" stroke="#000" stroke-width="0.2" textLength="27.1" lengthAdjust="spacingAndGlyphs">0.013</text>
<text x="324.5" y="73.3" font-family="DejaVu Sans, sans-serif" font-size="9" stroke="#000" stroke-width="0.2" textLength="26.8" lengthAdjust="spacingAndGlyphs">0.013</text>
<text x="392.8" y="73.3" font-family="DejaVu Sans, sans-serif" font-size="9" stroke="#000" stroke-width="0.2" textLength="27.1" lengthAdjust="spacingAndGlyphs">0.013</text>
<text x="471.8" y="73.3" font-family="DejaVu Sans, sans-serif" font-size="9" stroke="#000" stroke-width="0.2" textLength="5.8" lengthAdjust="spacingAndGlyphs">0</text>
<text x="509.4" y="73.3" font-family="DejaVu Sans, sans-serif" font-size="9" stroke="#000" stroke-width="0.2" textLength="79.7" lengthAdjust="spacingAndGlyphs">+0.000 (+0.78%)</text>
<path d="M592 72L595.5 68L599 72Z" fill="#2f4f4f"/>
<rect x="40.5" y="81" width="8.5" height="2" fill="#000"/>
<text x="52.5" y="85.8" font-family="DejaVu Sans, sans-serif" font-size="9.6" stroke="#000" stroke-width="0.2" textLength="89" lengthAdjust="spacing">$GOLD 1274.90</text>
<rect x="40.5" y="561.5" width="8.5" height="2" fill="#000"/>
<text x="52.5" y="566.2" font-family="DejaVu Sans, sans-serif" font-size="9.6" stroke="#000" stroke-width="0.2" textLength="83" lengthAdjust="spacing">$SILVER 16.79</text>
<text x="52.8" y="206.6" font-family="DejaVu Sans, sans-serif" font-size="9.6" stroke="#000" stroke-width="0.2" textLength="166.8" lengthAdjust="spacing">$SILVER:$GOLD (Daily) 0.013</text>
<rect x="40" y="213" width="9" height="2" fill="#0a0a28"/>
<text x="50.1" y="217.4" font-family="DejaVu Sans, sans-serif" font-size="8.3" fill="#0a0a28" stroke="#0a0a28" stroke-width="0.2" textLength="60.2" lengthAdjust="spacingAndGlyphs">MA(50) 0.013</text>
<rect x="40" y="224" width="9" height="2" fill="#8a1c34"/>
<text x="50.1" y="228.4" font-family="DejaVu Sans, sans-serif" font-size="8.3" fill="#6a1428" stroke="#6a1428" stroke-width="0.2" textLength="67.4" lengthAdjust="spacingAndGlyphs">MA(200) 0.014</text>
<path d="M41.4 199V206.2M44.6 202V207M47.6 199V207" stroke="#000" stroke-width="1.1"/><rect x="40.6" y="200.4" width="1.6" height="3" fill="#fff" stroke="#000" stroke-width="1"/><rect x="43.2" y="202" width="2.9" height="4" fill="#000"/><rect x="46.9" y="200.4" width="1.5" height="4.3" fill="#fff" stroke="#000" stroke-width="1"/>
<text x="54.5" y="106.8" font-family="Liberation Sans, sans-serif" font-size="17.3" font-weight="bold" fill="#4646a8" textLength="51.6" lengthAdjust="spacingAndGlyphs">GOLD</text>
<text x="51.9" y="255.4" font-family="Liberation Sans, sans-serif" font-size="16.8" font-weight="bold" fill="#4646a8" textLength="259.3" lengthAdjust="spacingAndGlyphs">SILVER to GOLD ratio: 20-year</text>
<text x="52.2" y="591.1" font-family="Liberation Sans, sans-serif" font-size="16.8" font-weight="bold" fill="#4646a8" textLength="64" lengthAdjust="spacingAndGlyphs">SILVER</text>
</svg>
</body></html>
